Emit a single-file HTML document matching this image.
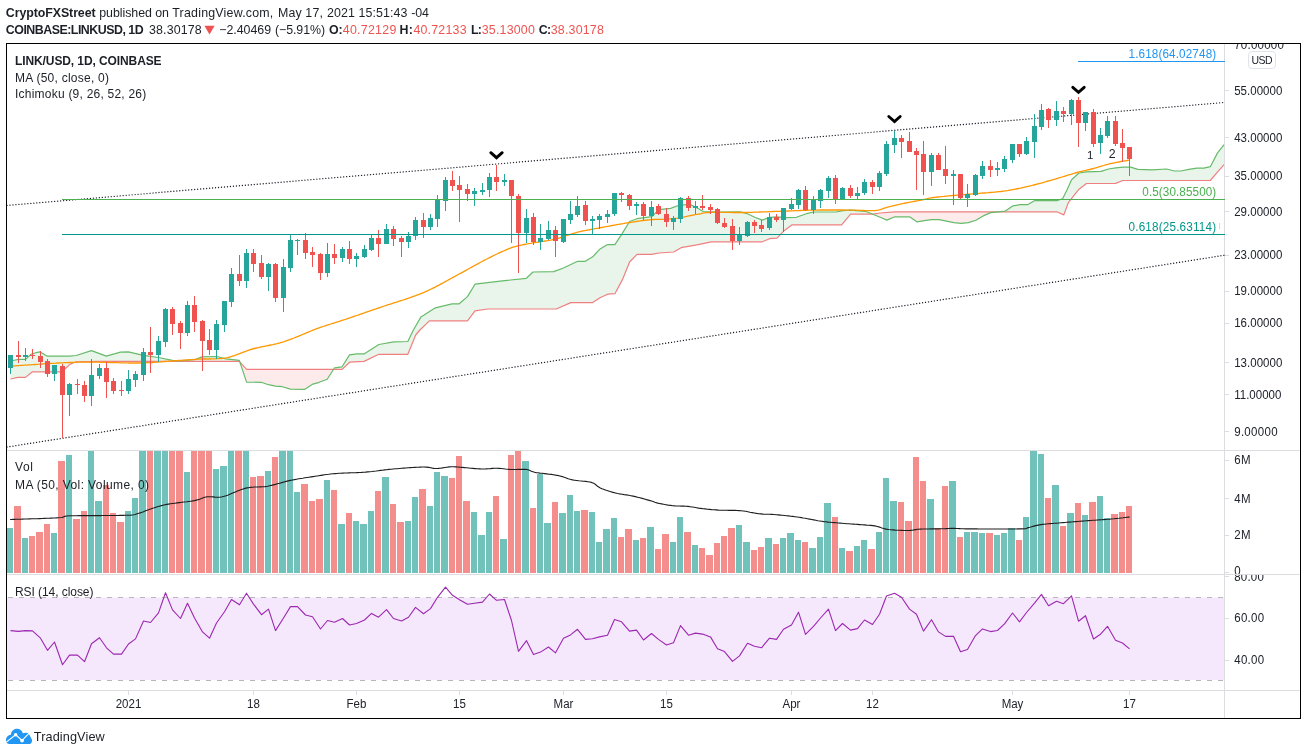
<!DOCTYPE html>
<html><head><meta charset="utf-8"><title>LINK/USD</title>
<style>
html,body{margin:0;padding:0;background:#fff;}
body{width:1307px;height:755px;position:relative;overflow:hidden;font-family:"Liberation Sans",sans-serif;}
#tx{position:absolute;left:0;top:0;width:1307px;height:755px;will-change:transform;}
</style></head><body>
<svg width="1307" height="755" viewBox="0 0 1307 755" style="position:absolute;left:0;top:0"><defs><clipPath id="cp"><rect x="7" y="44" width="1217.5" height="406"/></clipPath><clipPath id="cv"><rect x="7" y="451" width="1217.5" height="123"/></clipPath></defs><g stroke="#dcdde1" stroke-width="1" fill="none" shape-rendering="crispEdges"><line x1="6" x2="1301" y1="450.5" y2="450.5"/><line x1="6" x2="1301" y1="574.5" y2="574.5"/><line x1="6" x2="1301" y1="690.5" y2="690.5"/><line x1="1224.5" x2="1224.5" y1="43" y2="718.5"/><line x1="1224.5" x2="1229.0" y1="90.5" y2="90.5"/><line x1="1224.5" x2="1229.0" y1="137.5" y2="137.5"/><line x1="1224.5" x2="1229.0" y1="176.5" y2="176.5"/><line x1="1224.5" x2="1229.0" y1="211.5" y2="211.5"/><line x1="1224.5" x2="1229.0" y1="255.5" y2="255.5"/><line x1="1224.5" x2="1229.0" y1="291.5" y2="291.5"/><line x1="1224.5" x2="1229.0" y1="323.5" y2="323.5"/><line x1="1224.5" x2="1229.0" y1="362.5" y2="362.5"/><line x1="1224.5" x2="1229.0" y1="394.5" y2="394.5"/><line x1="1224.5" x2="1229.0" y1="431.5" y2="431.5"/><line x1="1224.5" x2="1229.0" y1="460.5" y2="460.5"/><line x1="1224.5" x2="1229.0" y1="498.5" y2="498.5"/><line x1="1224.5" x2="1229.0" y1="535.5" y2="535.5"/><line x1="1224.5" x2="1229.0" y1="572.5" y2="572.5"/><line x1="1224.5" x2="1229.0" y1="576.5" y2="576.5"/><line x1="1224.5" x2="1229.0" y1="618.5" y2="618.5"/><line x1="1224.5" x2="1229.0" y1="660.5" y2="660.5"/><line x1="128.5" x2="128.5" y1="690.5" y2="695"/><line x1="253.5" x2="253.5" y1="690.5" y2="695"/><line x1="356.5" x2="356.5" y1="690.5" y2="695"/><line x1="459.5" x2="459.5" y1="690.5" y2="695"/><line x1="563.5" x2="563.5" y1="690.5" y2="695"/><line x1="666.5" x2="666.5" y1="690.5" y2="695"/><line x1="791.5" x2="791.5" y1="690.5" y2="695"/><line x1="872.5" x2="872.5" y1="690.5" y2="695"/><line x1="1012.5" x2="1012.5" y1="690.5" y2="695"/><line x1="1129.5" x2="1129.5" y1="690.5" y2="695"/></g><rect x="7" y="597.5" width="1217.0" height="82.5" fill="#f5e8fc"/><g stroke="#b6b6ba" stroke-width="1" stroke-dasharray="5 6" stroke-dashoffset="-1" shape-rendering="crispEdges"><line x1="7" x2="1224.5" y1="597.5" y2="597.5"/><line x1="7" x2="1224.5" y1="680.5" y2="680.5"/></g><path d="M10.5 630.6 L18.5 631.4 L25.5 630.6 L32.5 630.9 L40.5 638.2 L47.5 650.3 L54.5 642 L62.5 664.7 L69.5 655.1 L77.5 655.1 L84.5 661.7 L91.5 643.7 L99.5 637.7 L106.5 647.8 L113.5 654.1 L121.5 654.1 L128.5 644 L135.5 638.9 L143.5 621 L150.5 622.5 L158.5 612.9 L165.5 592.7 L172.5 609.9 L180.5 618.5 L187.5 603.3 L194.5 618 L202.5 631.9 L209.5 638.2 L216.5 623 L224.5 611.7 L231.5 599.5 L239.5 604.8 L246.5 593.2 L253.5 604.1 L261.5 614.7 L268.5 609.1 L275.5 630.6 L283.5 618 L290.5 606.6 L297.5 606.6 L305.5 615 L312.5 616.7 L320.5 629 L327.5 620.5 L334.5 622.3 L342.5 618.5 L349.5 625 L356.5 623.5 L364.5 620 L371.5 613.4 L378.5 617.2 L386.5 609.6 L393.5 618.5 L401.5 621 L408.5 617.2 L415.5 607.4 L423.5 613.7 L430.5 608.6 L437.5 597.3 L445.5 587.2 L452.5 595.3 L459.5 599.8 L467.5 604.3 L474.5 603.3 L482.5 602.1 L489.5 594 L496.5 600.3 L504.5 599.5 L511.5 620.5 L518.5 651.3 L526.5 640.7 L533.5 654.6 L540.5 652.1 L548.5 647 L555.5 652.8 L563.5 638.2 L570.5 634.9 L577.5 629.3 L585.5 639.4 L592.5 638.7 L599.5 636.9 L607.5 635.2 L614.5 619.5 L621.5 621.8 L629.5 631.1 L636.5 630.1 L643.5 640 L651.5 633.5 L658.5 639.4 L666.5 645 L673.5 642.7 L680.5 625.6 L688.5 635.2 L695.5 633.1 L702.5 634.1 L710.5 636.9 L717.5 648.8 L724.5 651.6 L732.5 661.4 L739.5 655.9 L747.5 643.2 L754.5 646.3 L761.5 647.8 L769.5 638.2 L776.5 639.4 L783.5 629.3 L791.5 625 L798.5 612.2 L805.5 634.4 L813.5 626.3 L820.5 618 L828.5 609.1 L835.5 630.6 L842.5 623.5 L850.5 630.1 L857.5 628.6 L864.5 620 L872.5 624.5 L879.5 614.2 L886.5 596 L894.5 593.2 L901.5 597.3 L909.5 609.1 L916.5 614.2 L923.5 631.1 L931.5 619.7 L938.5 631.9 L945.5 636.4 L953.5 636.2 L960.5 651.8 L967.5 649.5 L975.5 635.6 L982.5 628.9 L990.5 631.6 L997.5 630.5 L1004.5 623.9 L1012.5 613 L1019.5 621.8 L1026.5 612.5 L1034.5 603.2 L1041.5 594.4 L1048.5 605.8 L1056.5 601.3 L1063.5 603.7 L1071.5 595.8 L1078.5 621.2 L1085.5 615.7 L1093.5 639 L1100.5 634.2 L1107.5 626.3 L1115.5 640.3 L1122.5 643 L1129.5 648.8" fill="none" stroke="#9c27b0" stroke-width="1.1" stroke-linejoin="round"/><g clip-path="url(#cv)" shape-rendering="crispEdges"><rect x="7" y="527.9" width="6" height="45.1" fill="#71c2ba"/><rect x="14" y="506.2" width="7" height="66.8" fill="#f48e8c"/><rect x="22" y="538" width="6" height="35" fill="#71c2ba"/><rect x="29" y="536" width="6" height="37" fill="#f48e8c"/><rect x="36" y="532.2" width="7" height="40.8" fill="#f48e8c"/><rect x="44" y="524.1" width="6" height="48.9" fill="#f48e8c"/><rect x="51" y="532.9" width="6" height="40.1" fill="#71c2ba"/><rect x="58" y="461" width="7" height="112" fill="#f48e8c"/><rect x="66" y="455.2" width="6" height="117.8" fill="#71c2ba"/><rect x="73" y="519" width="7" height="54" fill="#f48e8c"/><rect x="81" y="511.2" width="6" height="61.8" fill="#f48e8c"/><rect x="88" y="450" width="6" height="123" fill="#71c2ba"/><rect x="95" y="501.1" width="7" height="71.9" fill="#71c2ba"/><rect x="103" y="485" width="6" height="88" fill="#f48e8c"/><rect x="110" y="513.2" width="6" height="59.8" fill="#f48e8c"/><rect x="117" y="522.1" width="7" height="50.9" fill="#f48e8c"/><rect x="125" y="511.2" width="6" height="61.8" fill="#71c2ba"/><rect x="132" y="498.1" width="6" height="74.9" fill="#71c2ba"/><rect x="139" y="450" width="7" height="123" fill="#71c2ba"/><rect x="147" y="450" width="6" height="123" fill="#f48e8c"/><rect x="154" y="450" width="7" height="123" fill="#71c2ba"/><rect x="162" y="450" width="6" height="123" fill="#71c2ba"/><rect x="169" y="450" width="6" height="123" fill="#f48e8c"/><rect x="176" y="450" width="7" height="123" fill="#f48e8c"/><rect x="184" y="472.1" width="6" height="100.9" fill="#71c2ba"/><rect x="191" y="450" width="6" height="123" fill="#f48e8c"/><rect x="198" y="450" width="7" height="123" fill="#f48e8c"/><rect x="206" y="450" width="6" height="123" fill="#f48e8c"/><rect x="213" y="469" width="6" height="104" fill="#71c2ba"/><rect x="220" y="466" width="7" height="107" fill="#71c2ba"/><rect x="228" y="450" width="6" height="123" fill="#71c2ba"/><rect x="235" y="450" width="7" height="123" fill="#f48e8c"/><rect x="243" y="450" width="6" height="123" fill="#71c2ba"/><rect x="250" y="477.1" width="6" height="95.9" fill="#f48e8c"/><rect x="257" y="476.1" width="7" height="96.9" fill="#f48e8c"/><rect x="265" y="471.1" width="6" height="101.9" fill="#71c2ba"/><rect x="272" y="456.9" width="6" height="116.1" fill="#f48e8c"/><rect x="279" y="450" width="7" height="123" fill="#71c2ba"/><rect x="287" y="450" width="6" height="123" fill="#71c2ba"/><rect x="294" y="491.8" width="6" height="81.2" fill="#71c2ba"/><rect x="301" y="484.2" width="7" height="88.8" fill="#f48e8c"/><rect x="309" y="501.1" width="6" height="71.9" fill="#f48e8c"/><rect x="316" y="498.8" width="7" height="74.2" fill="#f48e8c"/><rect x="324" y="479.9" width="6" height="93.1" fill="#71c2ba"/><rect x="331" y="490" width="6" height="83" fill="#f48e8c"/><rect x="338" y="524.1" width="7" height="48.9" fill="#71c2ba"/><rect x="346" y="513.2" width="6" height="59.8" fill="#f48e8c"/><rect x="353" y="521.3" width="6" height="51.7" fill="#71c2ba"/><rect x="360" y="524.1" width="7" height="48.9" fill="#71c2ba"/><rect x="368" y="511.2" width="6" height="61.8" fill="#71c2ba"/><rect x="375" y="491" width="6" height="82" fill="#f48e8c"/><rect x="382" y="477.1" width="7" height="95.9" fill="#71c2ba"/><rect x="390" y="504.1" width="6" height="68.9" fill="#f48e8c"/><rect x="397" y="522.1" width="7" height="50.9" fill="#f48e8c"/><rect x="405" y="521.3" width="6" height="51.7" fill="#71c2ba"/><rect x="412" y="497.3" width="6" height="75.7" fill="#71c2ba"/><rect x="419" y="489.2" width="7" height="83.8" fill="#f48e8c"/><rect x="427" y="506.2" width="6" height="66.8" fill="#71c2ba"/><rect x="434" y="472.1" width="6" height="100.9" fill="#71c2ba"/><rect x="441" y="476.1" width="7" height="96.9" fill="#71c2ba"/><rect x="449" y="477.9" width="6" height="95.1" fill="#f48e8c"/><rect x="456" y="455.9" width="6" height="117.1" fill="#f48e8c"/><rect x="463" y="501.1" width="7" height="71.9" fill="#f48e8c"/><rect x="471" y="512.2" width="6" height="60.8" fill="#71c2ba"/><rect x="478" y="535.2" width="7" height="37.8" fill="#71c2ba"/><rect x="486" y="512.2" width="6" height="60.8" fill="#71c2ba"/><rect x="493" y="496.1" width="6" height="76.9" fill="#f48e8c"/><rect x="500" y="539.2" width="7" height="33.8" fill="#71c2ba"/><rect x="508" y="455.2" width="6" height="117.8" fill="#f48e8c"/><rect x="515" y="450.9" width="6" height="122.1" fill="#f48e8c"/><rect x="522" y="461" width="7" height="112" fill="#71c2ba"/><rect x="530" y="508.2" width="6" height="64.8" fill="#f48e8c"/><rect x="537" y="474.1" width="6" height="98.9" fill="#71c2ba"/><rect x="544" y="523.1" width="7" height="49.9" fill="#71c2ba"/><rect x="552" y="502.1" width="6" height="70.9" fill="#f48e8c"/><rect x="559" y="513.2" width="7" height="59.8" fill="#71c2ba"/><rect x="567" y="495" width="6" height="78" fill="#71c2ba"/><rect x="574" y="511.2" width="6" height="61.8" fill="#71c2ba"/><rect x="581" y="510.2" width="7" height="62.8" fill="#f48e8c"/><rect x="589" y="512.2" width="6" height="60.8" fill="#71c2ba"/><rect x="596" y="542.3" width="6" height="30.7" fill="#71c2ba"/><rect x="603" y="529.1" width="7" height="43.9" fill="#71c2ba"/><rect x="611" y="518.3" width="6" height="54.7" fill="#71c2ba"/><rect x="618" y="537.2" width="6" height="35.8" fill="#f48e8c"/><rect x="625" y="529.1" width="7" height="43.9" fill="#f48e8c"/><rect x="633" y="540.3" width="6" height="32.7" fill="#71c2ba"/><rect x="640" y="538.2" width="6" height="34.8" fill="#f48e8c"/><rect x="647" y="527.1" width="7" height="45.9" fill="#71c2ba"/><rect x="655" y="549.1" width="6" height="23.9" fill="#f48e8c"/><rect x="662" y="534.2" width="7" height="38.8" fill="#f48e8c"/><rect x="670" y="542.3" width="6" height="30.7" fill="#71c2ba"/><rect x="677" y="517.3" width="6" height="55.7" fill="#71c2ba"/><rect x="684" y="532.2" width="7" height="40.8" fill="#f48e8c"/><rect x="692" y="545.3" width="6" height="27.7" fill="#71c2ba"/><rect x="699" y="548.1" width="6" height="24.9" fill="#f48e8c"/><rect x="706" y="555.2" width="7" height="17.8" fill="#f48e8c"/><rect x="714" y="543" width="6" height="30" fill="#f48e8c"/><rect x="721" y="536.2" width="6" height="36.8" fill="#f48e8c"/><rect x="728" y="528.1" width="7" height="44.9" fill="#f48e8c"/><rect x="736" y="525.1" width="6" height="47.9" fill="#71c2ba"/><rect x="743" y="542.3" width="7" height="30.7" fill="#71c2ba"/><rect x="751" y="550.1" width="6" height="22.9" fill="#f48e8c"/><rect x="758" y="547.3" width="6" height="25.7" fill="#f48e8c"/><rect x="765" y="538.2" width="7" height="34.8" fill="#71c2ba"/><rect x="773" y="544.3" width="6" height="28.7" fill="#f48e8c"/><rect x="780" y="538.2" width="6" height="34.8" fill="#71c2ba"/><rect x="787" y="533.2" width="7" height="39.8" fill="#71c2ba"/><rect x="795" y="540.3" width="6" height="32.7" fill="#71c2ba"/><rect x="802" y="542.3" width="6" height="30.7" fill="#f48e8c"/><rect x="809" y="548.1" width="7" height="24.9" fill="#71c2ba"/><rect x="817" y="537.2" width="6" height="35.8" fill="#71c2ba"/><rect x="824" y="503.1" width="7" height="69.9" fill="#71c2ba"/><rect x="832" y="517.3" width="6" height="55.7" fill="#f48e8c"/><rect x="839" y="548.1" width="6" height="24.9" fill="#71c2ba"/><rect x="846" y="551.1" width="7" height="21.9" fill="#f48e8c"/><rect x="854" y="546.1" width="6" height="26.9" fill="#71c2ba"/><rect x="861" y="540.3" width="6" height="32.7" fill="#71c2ba"/><rect x="868" y="549.1" width="7" height="23.9" fill="#f48e8c"/><rect x="876" y="532.2" width="6" height="40.8" fill="#71c2ba"/><rect x="883" y="478.1" width="6" height="94.9" fill="#71c2ba"/><rect x="890" y="501.1" width="7" height="71.9" fill="#71c2ba"/><rect x="898" y="502.1" width="6" height="70.9" fill="#f48e8c"/><rect x="905" y="521.3" width="7" height="51.7" fill="#f48e8c"/><rect x="913" y="456.9" width="6" height="116.1" fill="#f48e8c"/><rect x="920" y="481.2" width="6" height="91.8" fill="#f48e8c"/><rect x="927" y="499.1" width="7" height="73.9" fill="#71c2ba"/><rect x="935" y="528.1" width="6" height="44.9" fill="#f48e8c"/><rect x="942" y="486" width="6" height="87" fill="#f48e8c"/><rect x="949" y="481.2" width="7" height="91.8" fill="#71c2ba"/><rect x="957" y="537.2" width="6" height="35.8" fill="#f48e8c"/><rect x="964" y="532.2" width="6" height="40.8" fill="#71c2ba"/><rect x="971" y="532.2" width="7" height="40.8" fill="#71c2ba"/><rect x="979" y="533.2" width="6" height="39.8" fill="#71c2ba"/><rect x="986" y="533.2" width="7" height="39.8" fill="#f48e8c"/><rect x="994" y="535.2" width="6" height="37.8" fill="#71c2ba"/><rect x="1001" y="533.2" width="6" height="39.8" fill="#71c2ba"/><rect x="1008" y="528.4" width="7" height="44.6" fill="#71c2ba"/><rect x="1016" y="540.3" width="6" height="32.7" fill="#f48e8c"/><rect x="1023" y="517.3" width="6" height="55.7" fill="#71c2ba"/><rect x="1030" y="450.6" width="7" height="122.4" fill="#71c2ba"/><rect x="1038" y="453.9" width="6" height="119.1" fill="#71c2ba"/><rect x="1045" y="498.1" width="6" height="74.9" fill="#f48e8c"/><rect x="1052" y="485" width="7" height="88" fill="#71c2ba"/><rect x="1060" y="526.1" width="6" height="46.9" fill="#f48e8c"/><rect x="1067" y="513.2" width="7" height="59.8" fill="#71c2ba"/><rect x="1075" y="503.1" width="6" height="69.9" fill="#f48e8c"/><rect x="1082" y="515.3" width="6" height="57.7" fill="#71c2ba"/><rect x="1089" y="502.1" width="7" height="70.9" fill="#f48e8c"/><rect x="1097" y="496.1" width="6" height="76.9" fill="#71c2ba"/><rect x="1104" y="518.3" width="6" height="54.7" fill="#71c2ba"/><rect x="1111" y="514" width="7" height="59" fill="#f48e8c"/><rect x="1119" y="512.2" width="6" height="60.8" fill="#f48e8c"/><rect x="1126" y="506.2" width="6" height="66.8" fill="#f48e8c"/></g><path d="M10.1 519.5 L11.3 519.5 L12.7 519.4 L14.2 519.4 L16 519.3 L18 519.2 L20.1 519.2 L22.3 519.1 L24.6 519 L27 519 L29.5 518.9 L32 518.8 L34.5 518.7 L37.1 518.7 L39.6 518.6 L42.1 518.5 L44.5 518.4 L46.8 518.3 L49 518.2 L51.2 518.1 L53.1 518 L54.9 518 L56.6 517.9 L58 517.8 L61.7 517.5 L63.3 517.1 L63.9 516.7 L64.6 516.4 L66.5 516 L70.7 515.8 L72.1 515.8 L73.6 515.7 L75.2 515.7 L77 515.7 L79 515.6 L81 515.6 L83.1 515.6 L85.4 515.6 L87.6 515.6 L90 515.6 L92.4 515.6 L94.8 515.6 L97.3 515.6 L99.7 515.6 L102.2 515.5 L104.6 515.5 L107 515.5 L109.4 515.5 L111.7 515.5 L113.9 515.5 L116 515.5 L118 515.5 L120 515.4 L121.8 515.4 L123.4 515.4 L125 515.3 L126.3 515.3 L130.9 515.1 L133.7 514.8 L135.3 514.5 L136.3 514.1 L137.3 513.7 L138.9 513.2 L141 512.6 L143 511.9 L145 511.1 L147.1 510.3 L149.2 509.5 L151.5 508.7 L153.4 508.1 L155.3 507.4 L157.2 506.8 L159.2 506.2 L161.4 505.6 L163.8 505 L166.7 504.4 L168.5 504.1 L170.4 503.8 L172.5 503.5 L174.8 503.2 L177.1 502.9 L179.5 502.6 L181.9 502.3 L184.3 502 L186.6 501.8 L188.8 501.5 L190.8 501.2 L192.7 500.9 L194.4 500.6 L197.3 499.9 L199.6 499.2 L201.5 498.5 L203.2 497.8 L204.9 497.2 L207 496.8 L209 496.7 L211 496.7 L213.1 496.9 L215.2 497.1 L217.4 497.2 L219.7 497.2 L222.2 496.8 L224.1 496.3 L226.1 495.7 L228.2 494.9 L230.4 494 L232.6 493.1 L234.8 492.2 L236.9 491.3 L238.9 490.5 L240.8 489.8 L242.4 489.2 L245 488.4 L246.9 487.9 L248.6 487.7 L250.3 487.4 L252.5 487.2 L254.3 487 L256.3 487 L258.3 487 L260.4 486.9 L262.7 486.8 L265.1 486.6 L267.7 486.2 L269.5 485.8 L271.4 485.4 L273.3 484.9 L275.4 484.4 L277.5 483.8 L279.7 483.2 L281.8 482.6 L284 482 L286.2 481.4 L288.3 480.9 L290.4 480.4 L292.5 480 L294.5 479.6 L296.6 479.2 L298.7 478.8 L300.8 478.5 L302.8 478.2 L304.9 477.8 L307 477.5 L309 477.2 L311.1 476.9 L313.1 476.6 L315.1 476.3 L317 476 L318.9 475.7 L320.8 475.4 L322.7 475.1 L324.6 474.8 L326.6 474.5 L328.6 474.3 L330.7 474 L332.9 473.8 L335.2 473.6 L337 473.5 L338.8 473.3 L340.8 473.2 L342.8 473.1 L344.8 473 L346.9 473 L348.9 472.9 L351.1 472.8 L353.2 472.7 L355.3 472.7 L357.4 472.6 L359.5 472.5 L361.5 472.4 L363.5 472.2 L365.5 472.1 L367.7 471.9 L369.9 471.7 L372 471.5 L374.1 471.2 L376.2 471 L378.3 470.7 L380.4 470.4 L382.5 470.2 L384.6 469.9 L386.7 469.7 L388.8 469.4 L391 469.2 L393.2 469 L395.2 468.8 L397.2 468.7 L399.4 468.5 L401.6 468.3 L403.8 468.1 L406 468 L408.2 467.8 L410.4 467.6 L412.5 467.5 L414.6 467.4 L416.6 467.3 L418.5 467.2 L420.3 467.1 L422 467 L423.5 467 L426.6 467.1 L428.9 467.4 L430.8 467.7 L432.4 468.1 L434.1 468.4 L436.2 468.5 L438.2 468.4 L440.3 468.2 L442.5 467.9 L444.7 467.5 L446.9 467.2 L449.1 466.9 L451.3 466.8 L453.5 466.8 L455.6 466.9 L457.8 467 L460 467.2 L462.2 467.4 L464.3 467.6 L466.5 467.8 L468.7 468 L470.8 468.2 L473 468.4 L475.1 468.6 L477.3 468.8 L479.4 468.9 L481.6 469 L483.8 469 L485.9 468.9 L488.1 468.7 L490.3 468.6 L492.5 468.4 L494.6 468.3 L496.8 468.3 L499 468.4 L501.1 468.5 L503.3 468.7 L505.4 469 L507.6 469.2 L509.7 469.4 L511.9 469.5 L514.1 469.5 L516.5 469.5 L518.8 469.4 L521.1 469.4 L523.3 469.3 L525.3 469.4 L527.1 469.5 L529.6 470.2 L531.3 471.2 L534.6 472.3 L536.1 472.6 L537.9 472.8 L539.9 473.1 L542.1 473.3 L544.4 473.6 L546.7 473.9 L549 474.2 L551.3 474.4 L553.5 474.7 L555.6 475.1 L557.4 475.4 L559.9 476 L562.2 476.6 L564.2 477.3 L566.2 478 L568.1 478.7 L570.2 479.3 L572.5 479.9 L574.5 480.2 L576.7 480.5 L578.9 480.8 L581.2 481 L583.5 481.2 L585.8 481.4 L587.9 481.7 L589.8 482 L591.5 482.4 L594.3 483.6 L596.1 485 L597.9 486.6 L600.3 488 L602.1 488.8 L604.1 489.5 L606.2 490.3 L608.5 491 L610.8 491.7 L613.1 492.4 L615.5 493 L617.6 493.5 L619.7 493.9 L622 494.2 L624.2 494.6 L626.4 494.9 L628.7 495.3 L630.9 495.7 L633.1 496.1 L635.3 496.6 L637.6 497.2 L639.9 497.8 L642.2 498.4 L644.4 499 L646.4 499.6 L648.3 500.1 L650 500.6 L653 501.6 L654.9 502.3 L657.7 503.1 L659.5 503.5 L661.5 503.9 L663.6 504.3 L665.9 504.7 L668.3 505.1 L670.6 505.4 L672.8 505.7 L675 505.9 L677.1 506 L679.3 506 L681.5 506.1 L683.7 506.1 L685.8 506.2 L688 506.4 L690.1 506.7 L692.2 507 L694.3 507.3 L696.5 507.7 L698.6 508.1 L700.8 508.4 L703.1 508.7 L705.2 508.9 L707.3 509.2 L709.4 509.4 L711.6 509.6 L713.9 509.7 L716.1 509.9 L718.5 510.1 L720.8 510.2 L722.7 510.3 L724.7 510.3 L726.8 510.3 L728.8 510.4 L730.9 510.4 L733 510.4 L735 510.4 L737.1 510.5 L739.1 510.6 L741 510.7 L743.3 511 L745.6 511.3 L747.8 511.7 L750 512.2 L752.2 512.6 L754.3 513 L756.5 513.4 L758.7 513.7 L760.9 513.9 L763 514.1 L765.1 514.2 L767.2 514.2 L769.4 514.3 L771.6 514.4 L773.9 514.5 L776.4 514.7 L778.3 514.9 L780.2 515.1 L782.2 515.3 L784.3 515.5 L786.4 515.7 L788.5 515.9 L790.6 516.2 L792.8 516.4 L794.9 516.7 L797 517 L799.1 517.3 L801.2 517.6 L803.3 518 L805.4 518.3 L807.5 518.7 L809.6 519.1 L811.7 519.5 L813.7 519.9 L815.8 520.3 L817.8 520.7 L819.8 521 L821.8 521.3 L823.9 521.6 L826 521.8 L828.1 522.1 L830.2 522.3 L832.2 522.5 L834.2 522.6 L836.2 522.8 L838.2 523 L840.1 523.1 L842 523.3 L844.3 523.5 L846.7 523.7 L848.9 523.8 L851.2 524 L853.4 524.1 L855.5 524.3 L857.6 524.4 L859.7 524.6 L862 524.8 L864.3 524.9 L866.5 525.1 L868.7 525.2 L870.8 525.4 L872.9 525.6 L874.8 525.9 L877.3 526.5 L879.6 527.1 L881.8 527.9 L884 528.6 L886.2 529.1 L888.5 529.5 L890.7 529.7 L893 529.9 L895.2 530.1 L897.6 530.2 L899.7 530.3 L901.8 530.4 L904 530.5 L906.1 530.5 L908.2 530.5 L910.2 530.4 L912.3 530.2 L914.1 529.9 L915.8 529.6 L917.8 529.3 L920.3 529.1 L922.2 529 L924.3 529 L926.5 529 L928.8 529 L931.2 528.9 L933.6 528.9 L935.9 528.9 L938 528.9 L940.3 528.8 L942.5 528.7 L944.6 528.7 L946.6 528.6 L948.7 528.5 L950.9 528.4 L953.1 528.4 L954.9 528.4 L956.4 528.5 L957.8 528.5 L959.3 528.6 L961.1 528.7 L963.4 528.8 L966.3 528.9 L970 528.9 L971.4 528.9 L973 528.9 L974.8 528.9 L976.7 528.9 L978.7 529 L980.7 529 L982.9 529 L985.2 529 L987.5 529 L989.9 529 L992.3 529 L994.7 529 L997.1 529 L999.5 529 L1001.8 529 L1004.2 529 L1006.4 529 L1008.6 529 L1010.7 529 L1012.7 529 L1014.6 529 L1016.3 529 L1017.9 528.9 L1019.3 528.9 L1020.6 528.9 L1026.1 528.6 L1026.9 528.2 L1028.2 527.6 L1029.9 527.2 L1031.7 526.7 L1033.7 526.1 L1035.9 525.6 L1038.2 525.1 L1040.8 524.6 L1042.5 524.4 L1044.3 524.2 L1046.1 524 L1048.1 523.8 L1050.1 523.6 L1052.2 523.5 L1054.3 523.3 L1056.5 523.2 L1058.7 523 L1061 522.8 L1062.9 522.6 L1064.9 522.5 L1067 522.3 L1069.1 522.1 L1071.2 522 L1073.3 521.8 L1075.5 521.6 L1077.7 521.5 L1079.9 521.3 L1082 521.1 L1084.2 521 L1086.3 520.8 L1088.4 520.6 L1090.6 520.5 L1092.8 520.3 L1095 520.2 L1097.2 520 L1099.3 519.9 L1101.5 519.8 L1103.6 519.6 L1105.7 519.5 L1107.7 519.3 L1109.6 519.2 L1111.5 519 L1113.9 518.8 L1116.4 518.5 L1118.8 518.3 L1121.1 518 L1123.2 517.8 L1125.2 517.5 L1127 517.3 L1128.5 517.1 L1129.7 517" fill="none" stroke="#1e1e1e" stroke-width="1.1" stroke-linejoin="round"/><g clip-path="url(#cp)"><path d="M10.5 361 L11 360.9 L11.5 360.8 L12 360.7 L12.5 360.6 L13 360.5 L13.5 360.4 L14 360.3 L14.5 360.2 L15 360.1 L15.5 360 L16 359.9 L16.5 359.8 L17 359.7 L17.5 359.6 L18 359.5 L18.5 359.4 L19 359.4 L19.5 359.4 L20 359.4 L20.5 359.4 L21 359.4 L21.5 359.4 L22 359.4 L22.5 359.4 L23 359.4 L23.5 359.4 L24 359.4 L24.5 359.4 L25 359.4 L25.5 359.4 L26 358.9 L26.5 358.5 L27 358 L27.5 357.5 L28 357.1 L28.5 356.6 L29 356.1 L29.5 355.7 L30 355.2 L30.5 354.8 L31 354.3 L31.5 354.1 L32 353.9 L32.5 353.8 L33 353.6 L33.5 353.4 L34 353.3 L34.5 353.1 L35 353 L35.5 352.8 L36 352.7 L36.5 352.6 L37 352.5 L37.5 352.4 L38 352.3 L38.5 352.2 L39 352.1 L39.5 352 L40 351.9 L40.5 352.1 L41 352.4 L41.5 352.7 L42 353 L42.5 353.3 L43 353.6 L43.5 353.9 L44 354.2 L44.5 354.5 L45 354.8 L45.5 355.1 L46 355.4 L46.5 355.7 L47 356 L47.5 356.2 L48 356.2 L48.5 356.2 L49 356.2 L49.5 356.2 L50 356.2 L50.5 356.2 L51 356.2 L51.5 356.2 L52 356.2 L52.5 356.2 L53 356.2 L53.5 356.2 L54 356.2 L54.5 356.2 L55 356.2 L55.5 356.2 L56 356.2 L56.5 356.2 L57 356.2 L57.5 356.2 L58 356.2 L58.5 356.2 L59 356.2 L59.5 356.2 L60 356.2 L60.5 356.2 L61 356.2 L61.5 356.2 L62 356.2 L62.5 356.2 L63 356.2 L63.5 356.2 L64 356.2 L64.5 356.2 L65 356.2 L65.5 356.2 L66 356.2 L66.5 356.2 L67 356.2 L67.5 356.2 L68 356.2 L68.5 356.2 L69 356.2 L69.5 356.2 L70 356.1 L70.5 356.1 L71 356 L71.5 356 L72 355.9 L72.5 355.9 L73 355.8 L73.5 355.8 L74 355.7 L74.5 355.7 L75 355.6 L75.5 355.6 L76 355.5 L76.5 355.4 L77 355.2 L77.5 355.1 L78 354.9 L78.5 354.8 L79 354.6 L79.5 354.4 L80 354.3 L80.5 354.1 L81 354 L81.5 353.8 L82 353.6 L82.5 353.5 L83 353.3 L83.5 353.1 L84 353 L84.5 352.8 L85 352.7 L85.5 352.5 L86 352.3 L86.5 352.2 L87 352 L87.5 351.9 L88 351.7 L88.5 351.5 L89 351.4 L89.5 351.2 L90 351.1 L90.5 350.9 L91 350.7 L91.5 350.6 L92 350.8 L92.5 351 L93 351.2 L93.5 351.4 L94 351.6 L94.5 351.7 L95 351.9 L95.5 352.1 L96 352.3 L96.5 352.5 L97 352.7 L97.5 352.8 L98 353 L98.5 353.2 L99 353.4 L99.5 353.6 L100 353.8 L100.5 353.9 L101 354.1 L101.5 354.3 L102 354.5 L102.5 354.7 L103 354.9 L103.5 355 L104 355.2 L104.5 355.4 L105 355.6 L105.5 355.8 L106 356 L106.5 356.1 L107 355.9 L107.5 355.8 L108 355.7 L108.5 355.5 L109 355.4 L109.5 355.2 L110 355.1 L110.5 355 L111 354.8 L111.5 354.7 L112 354.6 L112.5 354.4 L113 354.3 L113.5 354.1 L114 354 L114.5 353.9 L115 353.7 L115.5 353.6 L116 353.4 L116.5 353.3 L117 353.2 L117.5 353 L118 352.9 L118.5 352.8 L119 352.6 L119.5 352.5 L120 352.3 L120.5 352.2 L121 352.2 L121.5 352.1 L122 352.1 L122.5 352.1 L123 352.1 L123.5 352 L124 352 L124.5 352 L125 352 L125.5 351.9 L126 351.9 L126.5 351.9 L127 351.9 L127.5 351.8 L128 351.8 L128.5 351.8 L129 351.9 L129.5 352.1 L130 352.2 L130.5 352.3 L131 352.4 L131.5 352.5 L132 352.6 L132.5 352.8 L133 352.9 L133.5 353 L134 353.1 L134.5 353.2 L135 353.3 L135.5 353.5 L136 353.6 L136.5 353.7 L137 353.8 L137.5 353.9 L138 354 L138.5 354.2 L139 354.3 L139.5 354.4 L140 354.5 L140.5 354.6 L141 354.7 L141.5 354.9 L142 355 L142.5 355.1 L143 355.2 L143.5 355.3 L144 355.4 L144.5 355.5 L145 355.5 L145.5 355.6 L146 355.7 L146.5 355.8 L147 355.8 L147.5 355.9 L148 356 L148.5 356.1 L149 356.1 L149.5 356.2 L150 356.3 L150.5 356.3 L151 356.4 L151.5 356.5 L152 356.6 L152.5 356.6 L153 356.7 L153.5 356.8 L154 356.9 L154.5 356.9 L155 357 L155.5 357.1 L156 357.2 L156.5 357.2 L157 357.3 L157.5 357.4 L158 357.5 L158.5 357.5 L159 357.6 L159.5 357.7 L160 357.8 L160.5 357.9 L161 358 L161.5 358.1 L162 358.3 L162.5 358.4 L163 358.5 L163.5 358.6 L164 358.7 L164.5 358.8 L165 358.9 L165.5 359 L166 359.1 L166.5 359.2 L167 359.3 L167.5 359.4 L168 359.5 L168.5 359.6 L169 359.7 L169.5 359.8 L170 359.9 L170.5 360 L171 360.1 L171.5 360.2 L172 360.3 L172.5 360.4 L173 360.4 L173.5 360.4 L174 360.5 L174.5 360.5 L175 360.5 L175.5 360.6 L176 360.6 L176.5 360.6 L177 360.6 L177.5 360.7 L178 360.7 L178.5 360.7 L179 360.7 L179.5 360.8 L180 360.8 L180.5 360.8 L181 360.7 L181.5 360.7 L182 360.6 L182.5 360.6 L183 360.5 L183.5 360.5 L184 360.4 L184.5 360.4 L185 360.4 L185.5 360.3 L186 360.3 L186.5 360.2 L187 360.2 L187.5 360.1 L188 360.1 L188.5 360.1 L189 360 L189.5 360 L190 359.9 L190.5 359.9 L191 359.8 L191.5 359.8 L192 359.7 L192.5 359.7 L193 359.7 L193.5 359.6 L194 359.6 L194.5 359.5 L195 359.5 L195.5 359.4 L196 359.4 L196.5 359.1 L197 358.9 L197.5 358.7 L198 358.5 L198.5 358.3 L199 358.1 L199.5 357.9 L200 357.7 L200.5 357.5 L201 357.3 L201.5 357.1 L202 356.9 L202.5 356.9 L203 356.9 L203.5 356.9 L204 356.8 L204.5 356.8 L205 356.8 L205.5 356.8 L206 356.8 L206.5 356.8 L207 356.8 L207.5 356.7 L208 356.7 L208.5 356.7 L209 356.7 L209.5 356.7 L210 356.7 L210.5 356.7 L211 356.7 L211.5 356.6 L212 356.6 L212.5 356.6 L213 356.6 L213.5 356.6 L214 356.6 L214.5 356.6 L215 356.5 L215.5 356.5 L216 356.5 L216.5 356.5 L217 356.6 L217.5 356.7 L218 356.8 L218.5 356.9 L219 357.1 L219.5 357.2 L220 357.3 L220.5 357.4 L221 357.6 L221.5 357.7 L222 357.8 L222.5 358 L223 358.1 L223.5 358.2 L224 358.3 L224.5 358.5 L225 358.6 L225.5 358.7 L226 358.8 L226.5 358.9 L227 358.9 L227.5 359 L228 359.1 L228.5 359.1 L229 359.2 L229.5 359.2 L230 359.3 L230.5 359.4 L231 359.4 L231.5 359.5 L232 359.5 L232.5 359.6 L233 359.7 L233.5 359.7 L234 359.8 L234.5 359.8 L235 359.9 L235.5 359.9 L236 360 L236.5 360.1 L237 360.1 L237.5 360.2 L238 360.2 L238.5 360.3 L239 360.4 L239.5 361 L240 362.5 L240 362.2 L239.5 361.6 L239 361.4 L238.5 361.4 L238 361.4 L237.5 361.4 L237 361.4 L236.5 361.4 L236 361.4 L235.5 361.4 L235 361.4 L234.5 361.4 L234 361.4 L233.5 361.4 L233 361.4 L232.5 361.4 L232 361.4 L231.5 361.4 L231 361.4 L230.5 361.4 L230 361.4 L229.5 361.4 L229 361.4 L228.5 361.4 L228 361.4 L227.5 361.4 L227 361.4 L226.5 361.4 L226 361.4 L225.5 361.4 L225 361.4 L224.5 361.4 L224 361.4 L223.5 361.4 L223 361.4 L222.5 361.4 L222 361.4 L221.5 361.4 L221 361.4 L220.5 361.4 L220 361.4 L219.5 361.4 L219 361.4 L218.5 361.4 L218 361.4 L217.5 361.4 L217 361.4 L216.5 361.4 L216 361.4 L215.5 361.4 L215 361.4 L214.5 361.4 L214 361.4 L213.5 361.4 L213 361.4 L212.5 361.4 L212 361.4 L211.5 361.4 L211 361.4 L210.5 361.4 L210 361.4 L209.5 361.4 L209 361.4 L208.5 361.4 L208 361.4 L207.5 361.4 L207 361.4 L206.5 361.4 L206 361.4 L205.5 361.4 L205 361.4 L204.5 361.4 L204 361.4 L203.5 361.4 L203 361.4 L202.5 361.4 L202 361.4 L201.5 361.4 L201 361.4 L200.5 361.4 L200 361.4 L199.5 361.4 L199 361.4 L198.5 361.4 L198 361.4 L197.5 361.4 L197 361.4 L196.5 361.4 L196 361.4 L195.5 361.4 L195 361.4 L194.5 361.4 L194 361.4 L193.5 361.4 L193 361.4 L192.5 361.4 L192 361.4 L191.5 361.4 L191 361.4 L190.5 361.4 L190 361.4 L189.5 361.4 L189 361.4 L188.5 361.4 L188 361.4 L187.5 361.4 L187 361.4 L186.5 361.4 L186 361.4 L185.5 361.4 L185 361.4 L184.5 361.4 L184 361.4 L183.5 361.4 L183 361.4 L182.5 361.4 L182 361.4 L181.5 361.4 L181 361.4 L180.5 361.4 L180 361.4 L179.5 361.4 L179 361.4 L178.5 361.4 L178 361.4 L177.5 361.4 L177 361.4 L176.5 361.4 L176 361.4 L175.5 361.4 L175 361.4 L174.5 361.4 L174 361.4 L173.5 361.4 L173 361.4 L172.5 361.4 L172 361.4 L171.5 361.4 L171 361.4 L170.5 361.4 L170 361.4 L169.5 361.4 L169 361.4 L168.5 361.4 L168 361.4 L167.5 361.4 L167 361.4 L166.5 361.4 L166 361.4 L165.5 361.4 L165 361.4 L164.5 361.4 L164 361.4 L163.5 361.4 L163 361.4 L162.5 361.4 L162 361.4 L161.5 361.4 L161 361.4 L160.5 361.4 L160 361.4 L159.5 361.4 L159 361.4 L158.5 361.4 L158 361.4 L157.5 361.4 L157 361.4 L156.5 361.4 L156 361.4 L155.5 361.4 L155 361.4 L154.5 361.4 L154 361.4 L153.5 361.4 L153 361.4 L152.5 361.4 L152 361.4 L151.5 361.4 L151 361.4 L150.5 361.4 L150 361.4 L149.5 361.4 L149 361.4 L148.5 361.4 L148 361.4 L147.5 361.4 L147 361.4 L146.5 361.4 L146 361.4 L145.5 361.4 L145 361.4 L144.5 361.4 L144 361.4 L143.5 361.4 L143 361.4 L142.5 361.4 L142 361.4 L141.5 361.4 L141 361.4 L140.5 361.4 L140 361.4 L139.5 361.4 L139 361.4 L138.5 361.4 L138 361.4 L137.5 361.4 L137 361.4 L136.5 361.4 L136 361.4 L135.5 361.4 L135 361.4 L134.5 361.4 L134 361.4 L133.5 361.4 L133 361.4 L132.5 361.4 L132 361.4 L131.5 361.4 L131 361.4 L130.5 361.4 L130 361.4 L129.5 361.4 L129 361.4 L128.5 361.4 L128 361.4 L127.5 361.4 L127 361.4 L126.5 361.4 L126 361.4 L125.5 361.4 L125 361.4 L124.5 361.4 L124 361.4 L123.5 361.4 L123 361.4 L122.5 361.4 L122 361.4 L121.5 361.4 L121 361.4 L120.5 361.4 L120 361.4 L119.5 361.4 L119 361.4 L118.5 361.4 L118 361.4 L117.5 361.4 L117 361.4 L116.5 361.4 L116 361.4 L115.5 361.4 L115 361.4 L114.5 361.4 L114 361.4 L113.5 361.4 L113 361.4 L112.5 361.4 L112 361.4 L111.5 361.4 L111 361.4 L110.5 361.4 L110 361.4 L109.5 361.4 L109 361.4 L108.5 361.4 L108 361.4 L107.5 361.4 L107 361.4 L106.5 361.4 L106 361.4 L105.5 361.4 L105 361.4 L104.5 361.4 L104 361.4 L103.5 361.4 L103 361.4 L102.5 361.4 L102 361.4 L101.5 361.4 L101 361.4 L100.5 361.4 L100 361.4 L99.5 361.4 L99 361.4 L98.5 361.4 L98 361.4 L97.5 361.4 L97 361.5 L96.5 361.5 L96 361.5 L95.5 361.5 L95 361.5 L94.5 361.5 L94 361.5 L93.5 361.5 L93 361.5 L92.5 361.5 L92 361.5 L91.5 361.5 L91 361.6 L90.5 361.6 L90 361.6 L89.5 361.6 L89 361.6 L88.5 361.6 L88 361.6 L87.5 361.6 L87 361.6 L86.5 361.6 L86 361.6 L85.5 361.6 L85 361.7 L84.5 361.7 L84 361.7 L83.5 361.7 L83 361.7 L82.5 361.7 L82 361.7 L81.5 361.7 L81 361.7 L80.5 361.7 L80 361.7 L79.5 361.7 L79 361.8 L78.5 361.8 L78 361.8 L77.5 361.8 L77 361.8 L76.5 361.8 L76 361.9 L75.5 362.1 L75 362.3 L74.5 362.5 L74 362.6 L73.5 362.8 L73 363 L72.5 363.2 L72 363.4 L71.5 363.6 L71 363.8 L70.5 364 L70 364.3 L69.5 364.8 L69 365.2 L68.5 365.7 L68 366.2 L67.5 366.6 L67 367.1 L66.5 367.6 L66 368 L65.5 368.5 L65 368.9 L64.5 369.2 L64 369.5 L63.5 369.8 L63 370 L62.5 370.3 L62 370.6 L61.5 370.9 L61 371.2 L60.5 371.5 L60 371.7 L59.5 371.8 L59 371.8 L58.5 371.8 L58 371.8 L57.5 371.8 L57 371.8 L56.5 371.8 L56 371.8 L55.5 371.8 L55 371.8 L54.5 371.8 L54 371.8 L53.5 371.8 L53 371.8 L52.5 371.8 L52 371.8 L51.5 371.8 L51 371.8 L50.5 371.8 L50 371.8 L49.5 371.8 L49 371.8 L48.5 371.8 L48 371.8 L47.5 371.8 L47 371.8 L46.5 371.8 L46 371.8 L45.5 371.8 L45 371.8 L44.5 371.8 L44 371.8 L43.5 371.8 L43 371.8 L42.5 371.8 L42 371.8 L41.5 371.8 L41 371.8 L40.5 371.8 L40 371.8 L39.5 371.8 L39 371.8 L38.5 371.8 L38 371.8 L37.5 371.8 L37 371.8 L36.5 371.8 L36 371.8 L35.5 371.8 L35 371.8 L34.5 371.8 L34 371.8 L33.5 371.8 L33 371.8 L32.5 371.8 L32 372.2 L31.5 372.6 L31 373 L30.5 373.4 L30 373.8 L29.5 374.2 L29 374.6 L28.5 375 L28 375.4 L27.5 375.8 L27 376.2 L26.5 376.6 L26 377 L25.5 377.4 L25 377.4 L24.5 377.4 L24 377.4 L23.5 377.4 L23 377.4 L22.5 377.4 L22 377.4 L21.5 377.4 L21 377.4 L20.5 377.4 L20 377.4 L19.5 377.4 L19 377.4 L18.5 377.4 L18 377.4 L17.5 377.5 L17 377.6 L16.5 377.7 L16 377.8 L15.5 377.9 L15 378 L14.5 378.1 L14 378.2 L13.5 378.4 L13 378.5 L12.5 378.6 L12 378.7 L11.5 378.8 L11 378.9 L10.5 379Z" fill="#e9f5ea"/><path d="M240 362.5 L240.5 364 L241 365.5 L241.5 366.9 L242 368.4 L242.5 369.9 L243 371.4 L243.5 372.9 L244 374.4 L244.5 375.9 L245 377.3 L245.5 378.8 L246 380.3 L246.5 381.8 L247 382.1 L247.5 382.1 L248 382.1 L248.5 382.1 L249 382.1 L249.5 382.1 L250 382.1 L250.5 382.2 L251 382.2 L251.5 382.2 L252 382.2 L252.5 382.2 L253 382.2 L253.5 382.2 L254 382.2 L254.5 382.2 L255 382.2 L255.5 382.2 L256 382.2 L256.5 382.2 L257 382.2 L257.5 382.2 L258 382.3 L258.5 382.3 L259 382.3 L259.5 382.3 L260 382.3 L260.5 382.3 L261 382.3 L261.5 382.4 L262 382.6 L262.5 382.7 L263 382.9 L263.5 383.1 L264 383.2 L264.5 383.4 L265 383.5 L265.5 383.7 L266 383.9 L266.5 384 L267 384.2 L267.5 384.4 L268 384.5 L268.5 384.7 L269 384.8 L269.5 384.9 L270 385 L270.5 385.1 L271 385.2 L271.5 385.3 L272 385.4 L272.5 385.5 L273 385.6 L273.5 385.7 L274 385.8 L274.5 385.9 L275 386 L275.5 386.1 L276 386.1 L276.5 386.2 L277 386.2 L277.5 386.3 L278 386.3 L278.5 386.4 L279 386.4 L279.5 386.4 L280 386.5 L280.5 386.5 L281 386.6 L281.5 386.6 L282 386.7 L282.5 386.7 L283 386.9 L283.5 387 L284 387.2 L284.5 387.3 L285 387.5 L285.5 387.6 L286 387.8 L286.5 387.9 L287 388.1 L287.5 388.2 L288 388.4 L288.5 388.5 L289 388.7 L289.5 388.8 L290 389 L290.5 389.1 L291 389.1 L291.5 389.1 L292 389.1 L292.5 389.1 L293 389.1 L293.5 389.1 L294 389.1 L294.5 389.2 L295 389.2 L295.5 389.2 L296 389.2 L296.5 389.2 L297 389.2 L297.5 389.2 L298 389.2 L298.5 389.2 L299 389.2 L299.5 389.2 L300 389.2 L300.5 389.2 L301 389.2 L301.5 389.3 L302 389.3 L302.5 389.3 L303 389.3 L303.5 389.3 L304 389.3 L304.5 389.3 L305 389.2 L305.5 388.9 L306 388.6 L306.5 388.3 L307 387.9 L307.5 387.6 L308 387.3 L308.5 387 L309 386.6 L309.5 386.3 L310 386 L310.5 385.7 L311 385.3 L311.5 385 L312 384.7 L312.5 384.4 L313 384.1 L313.5 383.9 L314 383.8 L314.5 383.6 L315 383.5 L315.5 383.4 L316 383.2 L316.5 383.1 L317 382.9 L317.5 382.8 L318 382.6 L318.5 382.5 L319 382.4 L319.5 382.2 L320 382 L320.5 381.8 L321 381.6 L321.5 381.4 L322 381.2 L322.5 381.1 L323 380.9 L323.5 380.7 L324 380.5 L324.5 380.3 L325 380.1 L325.5 379.9 L326 379.8 L326.5 379.6 L327 379.4 L327.5 378.8 L328 378.1 L328.5 377.3 L329 376.5 L329.5 375.7 L330 374.9 L330.5 374.2 L331 373.4 L331.5 372.6 L332 371.8 L332.5 371.1 L333 370.3 L333.5 369.5 L334 368.7 L334 369.4 L333.5 369.4 L333 369.4 L332.5 369.4 L332 369.4 L331.5 369.4 L331 369.4 L330.5 369.4 L330 369.4 L329.5 369.4 L329 369.4 L328.5 369.4 L328 369.4 L327.5 369.4 L327 369.4 L326.5 369.4 L326 369.4 L325.5 369.4 L325 369.4 L324.5 369.4 L324 369.4 L323.5 369.4 L323 369.4 L322.5 369.4 L322 369.4 L321.5 369.4 L321 369.4 L320.5 369.4 L320 369.4 L319.5 369.4 L319 369.4 L318.5 369.4 L318 369.4 L317.5 369.4 L317 369.4 L316.5 369.4 L316 369.4 L315.5 369.4 L315 369.4 L314.5 369.4 L314 369.4 L313.5 369.4 L313 369.4 L312.5 369.4 L312 369.4 L311.5 369.4 L311 369.4 L310.5 369.4 L310 369.4 L309.5 369.4 L309 369.4 L308.5 369.4 L308 369.4 L307.5 369.4 L307 369.4 L306.5 369.4 L306 369.4 L305.5 369.4 L305 369.4 L304.5 369.4 L304 369.4 L303.5 369.4 L303 369.4 L302.5 369.4 L302 369.4 L301.5 369.4 L301 369.4 L300.5 369.4 L300 369.4 L299.5 369.4 L299 369.4 L298.5 369.4 L298 369.4 L297.5 369.4 L297 369.4 L296.5 369.4 L296 369.4 L295.5 369.4 L295 369.4 L294.5 369.4 L294 369.4 L293.5 369.4 L293 369.4 L292.5 369.4 L292 369.4 L291.5 369.4 L291 369.4 L290.5 369.4 L290 369.4 L289.5 369.4 L289 369.4 L288.5 369.4 L288 369.4 L287.5 369.4 L287 369.4 L286.5 369.4 L286 369.4 L285.5 369.4 L285 369.4 L284.5 369.4 L284 369.4 L283.5 369.4 L283 369.4 L282.5 369.4 L282 369.4 L281.5 369.4 L281 369.4 L280.5 369.4 L280 369.4 L279.5 369.4 L279 369.4 L278.5 369.4 L278 369.4 L277.5 369.4 L277 369.4 L276.5 369.4 L276 369.4 L275.5 369.4 L275 369.4 L274.5 369.4 L274 369.4 L273.5 369.4 L273 369.4 L272.5 369.4 L272 369.4 L271.5 369.4 L271 369.4 L270.5 369.4 L270 369.4 L269.5 369.4 L269 369.4 L268.5 369.4 L268 369.4 L267.5 369.4 L267 369.4 L266.5 369.4 L266 369.4 L265.5 369.4 L265 369.4 L264.5 369.4 L264 369.4 L263.5 369.4 L263 369.4 L262.5 369.4 L262 369.4 L261.5 369.4 L261 369.4 L260.5 369.4 L260 369.4 L259.5 369.4 L259 369.4 L258.5 369.4 L258 369.4 L257.5 369.4 L257 369.4 L256.5 369.4 L256 369.4 L255.5 369.4 L255 369.4 L254.5 369.4 L254 369.4 L253.5 369.4 L253 369.4 L252.5 369.4 L252 369.4 L251.5 369.4 L251 369.4 L250.5 369.4 L250 369.4 L249.5 369.4 L249 369.4 L248.5 369.4 L248 369.4 L247.5 369.4 L247 369.4 L246.5 369.3 L246 368.7 L245.5 368.2 L245 367.6 L244.5 367.1 L244 366.6 L243.5 366 L243 365.5 L242.5 364.9 L242 364.4 L241.5 363.8 L241 363.3 L240.5 362.7 L240 362.2Z" fill="#fdebeb"/><path d="M334 368.7 L334.5 368 L335 367.7 L335.5 367.7 L336 367.6 L336.5 367.5 L337 367.5 L337.5 367.4 L338 367.3 L338.5 367.3 L339 367.2 L339.5 367.1 L340 367.1 L340.5 367 L341 366.9 L341.5 366.9 L342 366.8 L342.5 366.2 L343 365.4 L343.5 364.5 L344 363.7 L344.5 362.9 L345 362.1 L345.5 361.3 L346 360.5 L346.5 359.7 L347 358.9 L347.5 358.1 L348 357.3 L348.5 356.5 L349 355.7 L349.5 354.9 L350 354.8 L350.5 354.8 L351 354.7 L351.5 354.6 L352 354.6 L352.5 354.5 L353 354.4 L353.5 354.4 L354 354.3 L354.5 354.2 L355 354.2 L355.5 354.1 L356 354 L356.5 354 L357 353.9 L357.5 353.9 L358 353.9 L358.5 353.9 L359 353.9 L359.5 353.9 L360 353.9 L360.5 353.9 L361 353.9 L361.5 353.9 L362 353.9 L362.5 353.9 L363 353.9 L363.5 353.9 L364 353.9 L364.5 353.6 L365 353.3 L365.5 353 L366 352.6 L366.5 352.3 L367 352 L367.5 351.7 L368 351.4 L368.5 351.1 L369 350.7 L369.5 350.4 L370 350.1 L370.5 349.8 L371 349.5 L371.5 349.2 L372 348.9 L372.5 348.5 L373 348.2 L373.5 347.9 L374 347.6 L374.5 347.3 L375 347 L375.5 346.6 L376 346.3 L376.5 346 L377 345.7 L377.5 345.4 L378 345.1 L378.5 344.8 L379 344.5 L379.5 344.4 L380 344.3 L380.5 344.2 L381 344.1 L381.5 344 L382 344 L382.5 343.9 L383 343.8 L383.5 343.7 L384 343.6 L384.5 343.5 L385 343.4 L385.5 343.3 L386 343.3 L386.5 343.2 L387 343.1 L387.5 343 L388 342.9 L388.5 342.8 L389 342.7 L389.5 342.7 L390 342.6 L390.5 342.5 L391 342.4 L391.5 342.3 L392 342.2 L392.5 342.1 L393 342 L393.5 342 L394 341.9 L394.5 341.9 L395 341.9 L395.5 341.9 L396 341.8 L396.5 341.8 L397 341.8 L397.5 341.8 L398 341.8 L398.5 341.8 L399 341.8 L399.5 341.7 L400 341.7 L400.5 341.7 L401 341.7 L401.5 341.7 L402 341.7 L402.5 341.7 L403 341.6 L403.5 341.6 L404 341.6 L404.5 341.6 L405 341.6 L405.5 341.6 L406 341.6 L406.5 341.5 L407 341.5 L407.5 341.5 L408 341.1 L408.5 340.1 L409 339 L409.5 338 L410 337 L410.5 336 L411 334.9 L411.5 333.9 L412 332.9 L412.5 331.8 L413 330.8 L413.5 329.8 L414 329 L414.5 328.1 L415 327.2 L415.5 326.4 L416 325.5 L416.5 324.7 L417 323.8 L417.5 322.9 L418 322.1 L418.5 321.2 L419 320.3 L419.5 319.5 L420 318.6 L420.5 317.8 L421 316.9 L421.5 316.6 L422 316.3 L422.5 316 L423 315.6 L423.5 315.3 L424 315 L424.5 314.7 L425 314.4 L425.5 314.1 L426 313.7 L426.5 313.4 L427 313.1 L427.5 312.8 L428 312.5 L428.5 312.2 L429 311.8 L429.5 311.5 L430 311.2 L430.5 310.9 L431 310.6 L431.5 310.3 L432 309.9 L432.5 309.6 L433 309.3 L433.5 309 L434 308.7 L434.5 308.4 L435 308.1 L435.5 307.8 L436 307.7 L436.5 307.5 L437 307.4 L437.5 307.3 L438 307.2 L438.5 307.1 L439 306.9 L439.5 306.8 L440 306.7 L440.5 306.6 L441 306.5 L441.5 306.3 L442 306.2 L442.5 306.1 L443 306 L443.5 305.8 L444 305.7 L444.5 305.6 L445 305.5 L445.5 305.4 L446 305.2 L446.5 305.1 L447 305 L447.5 304.9 L448 304.8 L448.5 304.6 L449 304.5 L449.5 304.4 L450 304.3 L450.5 304.2 L451 304 L451.5 303.9 L452 303.8 L452.5 303.8 L453 303.8 L453.5 303.8 L454 303.8 L454.5 303.8 L455 303.8 L455.5 303.8 L456 303.8 L456.5 303.8 L457 303.8 L457.5 303.8 L458 303.8 L458.5 303.8 L459 303.8 L459.5 303.5 L460 303.1 L460.5 302.7 L461 302.2 L461.5 301.8 L462 301.4 L462.5 300.9 L463 300.5 L463.5 300.1 L464 299.6 L464.5 299.2 L465 298.8 L465.5 298.3 L466 297.9 L466.5 297.5 L467 297 L467.5 296.6 L468 295.8 L468.5 294.9 L469 294.1 L469.5 293.3 L470 292.5 L470.5 291.6 L471 290.8 L471.5 290 L472 289.2 L472.5 288.3 L473 287.5 L473.5 286.7 L474 285.9 L474.5 285 L475 284.2 L475.5 284.1 L476 284.1 L476.5 284 L477 284 L477.5 283.9 L478 283.8 L478.5 283.8 L479 283.7 L479.5 283.7 L480 283.6 L480.5 283.5 L481 283.5 L481.5 283.4 L482 283.3 L482.5 283.3 L483 283.2 L483.5 283.2 L484 283.1 L484.5 283 L485 283 L485.5 282.9 L486 282.9 L486.5 282.8 L487 282.7 L487.5 282.7 L488 282.6 L488.5 282.6 L489 282.5 L489.5 282.4 L490 282.4 L490.5 282.3 L491 282.2 L491.5 282.2 L492 282.1 L492.5 282.1 L493 282 L493.5 281.9 L494 281.9 L494.5 281.8 L495 281.8 L495.5 281.7 L496 281.6 L496.5 281.6 L497 281.5 L497.5 281.5 L498 281.4 L498.5 281.3 L499 281.3 L499.5 281.2 L500 281.1 L500.5 281.1 L501 281 L501.5 281 L502 280.9 L502.5 280.8 L503 280.8 L503.5 280.7 L504 280.7 L504.5 280.6 L505 280.5 L505.5 280.5 L506 280.4 L506.5 280.4 L507 280.3 L507.5 280.3 L508 280.2 L508.5 280.2 L509 280.1 L509.5 280.1 L510 280 L510.5 280 L511 279.9 L511.5 279.9 L512 279.8 L512.5 279.8 L513 279.7 L513.5 279.7 L514 279.6 L514.5 279.5 L515 279.5 L515.5 279.4 L516 279.4 L516.5 279.3 L517 279.3 L517.5 279.2 L518 279.2 L518.5 279.1 L519 279.1 L519.5 279 L520 279 L520.5 278.9 L521 278.9 L521.5 278.8 L522 278.8 L522.5 278.7 L523 278.7 L523.5 278.6 L524 278.6 L524.5 278.5 L525 278.4 L525.5 278.4 L526 278.3 L526.5 278.2 L527 277.7 L527.5 277.2 L528 276.8 L528.5 276.3 L529 275.8 L529.5 275.3 L530 274.9 L530.5 274.4 L531 273.9 L531.5 273.4 L532 273 L532.5 272.5 L533 272 L533.5 272 L534 272 L534.5 272 L535 272 L535.5 272 L536 271.9 L536.5 271.9 L537 271.9 L537.5 271.9 L538 271.9 L538.5 271.9 L539 271.9 L539.5 271.9 L540 271.9 L540.5 271.9 L541 271.8 L541.5 271.8 L542 271.8 L542.5 271.8 L543 271.8 L543.5 271.8 L544 271.8 L544.5 271.8 L545 271.8 L545.5 271.8 L546 271.8 L546.5 271.7 L547 271.7 L547.5 271.7 L548 271.7 L548.5 271.7 L549 271.7 L549.5 271.7 L550 271.7 L550.5 271.7 L551 271.7 L551.5 271.6 L552 271.6 L552.5 271.6 L553 271.6 L553.5 271.6 L554 271.5 L554.5 271.3 L555 271.1 L555.5 271 L556 270.8 L556.5 270.6 L557 270.4 L557.5 270.2 L558 270 L558.5 269.8 L559 269.6 L559.5 269.5 L560 269.3 L560.5 269.1 L561 268.9 L561.5 268.7 L562 268.5 L562.5 268.3 L563 268.1 L563.5 268 L564 267.7 L564.5 267.5 L565 267.3 L565.5 267 L566 266.8 L566.5 266.5 L567 266.3 L567.5 266.1 L568 265.8 L568.5 265.6 L569 265.4 L569.5 265.1 L570 264.9 L570.5 264.7 L571 264.4 L571.5 264.2 L572 264 L572.5 263.7 L573 263.5 L573.5 263.3 L574 263 L574.5 262.8 L575 262.6 L575.5 262.3 L576 262.1 L576.5 261.9 L577 261.6 L577.5 261.4 L578 261.3 L578.5 261.3 L579 261.3 L579.5 261.3 L580 261.3 L580.5 261.3 L581 261.3 L581.5 261.3 L582 261.3 L582.5 261.3 L583 261.3 L583.5 261.3 L584 261.3 L584.5 261.3 L585 261.3 L585.5 261.2 L586 260.9 L586.5 260.6 L587 260.3 L587.5 260 L588 259.7 L588.5 259.4 L589 259.1 L589.5 258.7 L590 258.4 L590.5 258.1 L591 257.8 L591.5 257.5 L592 257.2 L592.5 256.9 L593 256.5 L593.5 255.9 L594 255.4 L594.5 254.9 L595 254.3 L595.5 253.8 L596 253.3 L596.5 252.7 L597 252.2 L597.5 251.7 L598 251.1 L598.5 250.6 L599 250.1 L599.5 249.5 L600 249 L600.5 248.7 L601 248.4 L601.5 248.1 L602 247.8 L602.5 247.5 L603 247.2 L603.5 246.9 L604 246.6 L604.5 246.3 L605 246.1 L605.5 245.8 L606 245.5 L606.5 245.2 L607 244.9 L607.5 244.6 L608 244.6 L608.5 244.6 L609 244.6 L609.5 244.6 L610 244.6 L610.5 244.6 L611 244.6 L611.5 244.6 L612 244.6 L612.5 244.6 L613 244.6 L613.5 244.6 L614 244.6 L614.5 244.6 L615 244.4 L615.5 243.7 L616 242.9 L616.5 242.2 L617 241.4 L617.5 240.7 L618 239.9 L618.5 239.2 L619 238.4 L619.5 237.6 L620 236.9 L620.5 236.1 L621 235.4 L621.5 234.6 L622 233.9 L622.5 233.1 L623 232.3 L623.5 231.4 L624 230.6 L624.5 229.8 L625 229 L625.5 228.2 L626 227.4 L626.5 226.6 L627 225.7 L627.5 224.9 L628 224.1 L628.5 223.3 L629 222.5 L629.5 221.7 L630 221.3 L630.5 221.2 L631 221 L631.5 220.8 L632 220.6 L632.5 220.4 L633 220.2 L633.5 220 L634 219.8 L634.5 219.6 L635 219.5 L635.5 219.3 L636 219.1 L636.5 218.9 L637 218.7 L637.5 218.6 L638 218.6 L638.5 218.5 L639 218.4 L639.5 218.4 L640 218.3 L640.5 218.2 L641 218.2 L641.5 218.1 L642 218 L642.5 217.9 L643 217.9 L643.5 217.8 L644 217.7 L644.5 217.7 L645 217.6 L645.5 217.5 L646 217.5 L646.5 217.4 L647 217.3 L647.5 217.3 L648 217.2 L648.5 217.1 L649 217.1 L649.5 217 L650 216.9 L650.5 216.9 L651 216.8 L651.5 216.7 L652 216.3 L652.5 215.8 L653 215.4 L653.5 214.9 L654 214.4 L654.5 213.9 L655 213.4 L655.5 213 L656 212.5 L656.5 212 L657 211.5 L657.5 211 L658 210.6 L658.5 210.1 L659 209.6 L659.5 209.5 L660 209.5 L660.5 209.4 L661 209.4 L661.5 209.3 L662 209.3 L662.5 209.2 L663 209.2 L663.5 209.1 L664 209.1 L664.5 209 L665 209 L665.5 208.9 L666 208.9 L666.5 208.8 L667 208.8 L667.5 208.7 L668 208.7 L668.5 208.6 L669 208.6 L669.5 208.5 L670 208.5 L670.5 208.4 L671 208.3 L671.5 208.1 L672 207.9 L672.5 207.7 L673 207.5 L673.5 207.3 L674 207.1 L674.5 207 L675 206.8 L675.5 206.6 L676 206.4 L676.5 206.2 L677 206 L677.5 205.9 L678 205.7 L678.5 205.5 L679 205.3 L679.5 205.3 L680 205.2 L680.5 205.2 L681 205.1 L681.5 205.1 L682 205 L682.5 205 L683 205 L683.5 204.9 L684 204.9 L684.5 204.8 L685 204.8 L685.5 204.8 L686 204.7 L686.5 204.7 L687 204.6 L687.5 204.6 L688 204.5 L688.5 204.5 L689 204.5 L689.5 204.4 L690 204.5 L690.5 204.8 L691 205 L691.5 205.2 L692 205.4 L692.5 205.7 L693 205.9 L693.5 206.1 L694 206.3 L694.5 206.6 L695 206.8 L695.5 207 L696 207.3 L696.5 207.5 L697 207.8 L697.5 208.1 L698 208.4 L698.5 208.7 L699 209 L699.5 209.3 L700 209.6 L700.5 209.9 L701 210.2 L701.5 210.5 L702 210.7 L702.5 211 L703 211.3 L703.5 211.5 L704 211.5 L704.5 211.5 L705 211.6 L705.5 211.6 L706 211.6 L706.5 211.6 L707 211.6 L707.5 211.6 L708 211.6 L708.5 211.7 L709 211.7 L709.5 211.7 L710 211.7 L710.5 211.7 L711 211.7 L711.5 211.7 L712 211.8 L712.5 211.8 L713 211.8 L713.5 211.8 L714 211.8 L714.5 211.8 L715 211.9 L715.5 211.9 L716 211.9 L716.5 211.9 L717 211.9 L717.5 211.9 L718 211.9 L718.5 212 L719 212 L719.5 212 L720 212 L720.5 212 L721 212 L721.5 212 L722 212 L722.5 212 L723 212 L723.5 212 L724 212 L724.5 212 L725 211.9 L725.5 211.9 L726 211.9 L726.5 211.9 L727 211.9 L727.5 211.9 L728 211.9 L728.5 211.9 L729 211.9 L729.5 211.9 L730 211.9 L730.5 211.9 L731 211.9 L731.5 211.9 L732 211.9 L732.5 211.9 L733 211.9 L733.5 211.9 L734 211.9 L734.5 211.9 L735 211.9 L735.5 211.8 L736 211.8 L736.5 211.8 L737 211.8 L737.5 211.8 L738 211.8 L738.5 211.8 L739 211.8 L739.5 211.8 L740 211.8 L740.5 211.9 L741 212.1 L741.5 212.2 L742 212.3 L742.5 212.4 L743 212.6 L743.5 212.7 L744 212.8 L744.5 213 L745 213.1 L745.5 213.2 L746 213.3 L746.5 213.5 L747 213.6 L747.5 213.7 L748 214 L748.5 214.2 L749 214.5 L749.5 214.7 L750 215 L750.5 215.2 L751 215.5 L751.5 215.7 L752 215.9 L752.5 216.2 L753 216.4 L753.5 216.7 L754 216.9 L754.5 217.2 L755 217.4 L755.5 217.6 L756 217.8 L756.5 217.9 L757 218.1 L757.5 218.3 L758 218.5 L758.5 218.7 L759 218.9 L759.5 219.1 L760 219.3 L760.5 219.5 L761 219.6 L761.5 219.8 L762 220 L762.5 220 L763 219.8 L763.5 219.6 L764 219.4 L764.5 219.2 L765 219 L765.5 218.9 L766 218.7 L766.5 218.5 L767 218.3 L767.5 218.1 L768 217.9 L768.5 217.7 L769 217.5 L769.5 217.3 L770 217.3 L770.5 217.2 L771 217.2 L771.5 217.2 L772 217.1 L772.5 217.1 L773 217.1 L773.5 217 L774 217 L774.5 217 L775 216.9 L775.5 216.9 L776 216.9 L776.5 216.8 L777 216.8 L777.5 216.9 L778 216.9 L778.5 217 L779 217 L779.5 217.1 L780 217.2 L780.5 217.2 L781 217.3 L781.5 217.3 L782 217.4 L782.5 217.5 L783 217.5 L783.5 217.6 L784 217.7 L784.5 217.7 L785 217.7 L785.5 217.7 L786 217.6 L786.5 217.6 L787 217.6 L787.5 217.6 L788 217.6 L788.5 217.6 L789 217.5 L789.5 217.5 L790 217.5 L790.5 217.5 L791 217.5 L791.5 217.5 L792 217.4 L792.5 217.4 L793 217.4 L793.5 217.4 L794 217.4 L794.5 217.4 L795 217.3 L795.5 217.3 L796 217.3 L796.5 217.2 L797 217.1 L797.5 216.9 L798 216.7 L798.5 216.5 L799 216.3 L799.5 216.2 L800 216 L800.5 215.8 L801 215.6 L801.5 215.5 L802 215.3 L802.5 215.1 L803 214.9 L803.5 214.8 L804 214.6 L804.5 214.4 L805 214.2 L805.5 214.1 L806 213.9 L806.5 213.7 L807 213.6 L807.5 213.5 L808 213.3 L808.5 213.2 L809 213.1 L809.5 213 L810 212.9 L810.5 212.8 L811 212.6 L811.5 212.5 L812 212.4 L812.5 212.3 L813 212.2 L813.5 212 L814 212 L814.5 212 L815 212 L815.5 212 L816 212 L816.5 212 L817 212 L817.5 212 L818 212 L818.5 212 L819 212 L819.5 212 L820 212 L820.5 212 L821 212 L821.5 212 L822 212 L822.5 212 L823 212 L823.5 212 L824 212 L824.5 212 L825 212 L825.5 212 L826 212 L826.5 212 L827 212 L827.5 212 L828 212 L828.5 212 L829 212 L829.5 212 L830 212 L830.5 212 L831 212 L831.5 212 L832 212 L832.5 212 L833 212 L833.5 212 L834 212 L834.5 212 L835 212 L835.5 212 L836 212 L836.5 211.9 L837 211.8 L837.5 211.7 L838 211.6 L838.5 211.5 L839 211.4 L839.5 211.3 L840 211.2 L840.5 211.1 L841 211 L841.5 210.9 L842 210.8 L842.5 210.7 L843 210.6 L843.5 210.6 L844 210.5 L844.5 210.5 L845 210.5 L845.5 210.4 L846 210.4 L846.5 210.4 L847 210.3 L847.5 210.3 L848 210.3 L848.5 210.2 L849 210.2 L849.5 210.2 L850 210.1 L850.5 210.1 L851 210.1 L851.5 210.2 L852 210.2 L852.5 210.3 L853 210.3 L853.5 210.3 L854 210.4 L854.5 210.4 L855 210.5 L855.5 210.5 L856 210.5 L856.5 210.6 L857 210.6 L857.5 210.7 L858 210.7 L858.5 210.7 L859 210.8 L859.5 210.8 L860 210.9 L860.5 210.9 L861 210.9 L861.5 211 L862 211 L862.5 211.1 L863 211.1 L863.5 211.1 L864 211.2 L864.5 211.2 L865 211.3 L865.5 211.3 L866 211.5 L866.5 211.7 L867 211.9 L867.5 212.1 L868 212.3 L868.5 212.5 L869 212.7 L869.5 212.9 L870 213.1 L870.5 213.3 L871 213.5 L871.5 213.7 L872 213.9 L872.5 214.1 L873 214.3 L873 214.2 L872.5 214.2 L872 214.2 L871.5 214.2 L871 214.2 L870.5 214.2 L870 214.2 L869.5 214.2 L869 214.2 L868.5 214.2 L868 214.2 L867.5 214.2 L867 214.2 L866.5 214.2 L866 214.2 L865.5 214.2 L865 214.2 L864.5 214.2 L864 214.2 L863.5 214.2 L863 214.2 L862.5 214.2 L862 214.2 L861.5 214.2 L861 214.2 L860.5 214.2 L860 214.2 L859.5 214.2 L859 214.2 L858.5 214.2 L858 214.2 L857.5 214.2 L857 214.2 L856.5 214.2 L856 214.2 L855.5 214.2 L855 214.2 L854.5 214.2 L854 214.2 L853.5 214.2 L853 214.2 L852.5 214.2 L852 214.2 L851.5 214.2 L851 214.2 L850.5 214.3 L850 214.9 L849.5 215.5 L849 216.1 L848.5 216.7 L848 217.3 L847.5 217.9 L847 218.5 L846.5 219.1 L846 219.7 L845.5 220.3 L845 220.9 L844.5 221.5 L844 222 L843.5 222.6 L843 223.2 L842.5 223.8 L842 224.4 L841.5 224.9 L841 224.9 L840.5 224.9 L840 224.9 L839.5 224.9 L839 224.9 L838.5 224.9 L838 224.9 L837.5 224.9 L837 224.9 L836.5 224.9 L836 224.9 L835.5 224.9 L835 224.9 L834.5 224.9 L834 224.9 L833.5 224.9 L833 224.9 L832.5 224.9 L832 224.9 L831.5 224.9 L831 224.9 L830.5 224.9 L830 224.9 L829.5 224.9 L829 224.9 L828.5 224.9 L828 224.9 L827.5 224.9 L827 224.9 L826.5 224.9 L826 224.9 L825.5 224.9 L825 224.9 L824.5 224.9 L824 224.9 L823.5 224.9 L823 224.9 L822.5 224.9 L822 224.9 L821.5 224.9 L821 224.9 L820.5 224.9 L820 224.9 L819.5 224.9 L819 224.9 L818.5 224.9 L818 224.9 L817.5 224.9 L817 224.9 L816.5 224.9 L816 224.9 L815.5 224.9 L815 224.9 L814.5 224.9 L814 224.9 L813.5 224.9 L813 224.9 L812.5 224.9 L812 224.9 L811.5 224.9 L811 224.9 L810.5 224.9 L810 224.9 L809.5 224.9 L809 224.9 L808.5 224.9 L808 224.9 L807.5 224.9 L807 224.9 L806.5 224.9 L806 224.9 L805.5 224.9 L805 224.9 L804.5 224.9 L804 224.9 L803.5 224.9 L803 224.9 L802.5 224.9 L802 224.9 L801.5 224.9 L801 224.9 L800.5 224.9 L800 224.9 L799.5 224.9 L799 224.9 L798.5 224.9 L798 224.9 L797.5 224.9 L797 224.9 L796.5 224.9 L796 224.9 L795.5 224.9 L795 224.9 L794.5 224.9 L794 224.9 L793.5 224.9 L793 224.9 L792.5 224.9 L792 224.9 L791.5 225.1 L791 225.5 L790.5 225.9 L790 226.2 L789.5 226.6 L789 227 L788.5 227.4 L788 227.7 L787.5 228.1 L787 228.5 L786.5 228.8 L786 229.2 L785.5 229.6 L785 230 L784.5 230.3 L784 230.8 L783.5 231.3 L783 231.9 L782.5 232.4 L782 232.9 L781.5 233.5 L781 234 L780.5 234.5 L780 235 L779.5 235.6 L779 236.1 L778.5 236.6 L778 237.1 L777.5 237.7 L777 238.2 L776.5 238.2 L776 238.3 L775.5 238.3 L775 238.3 L774.5 238.4 L774 238.4 L773.5 238.4 L773 238.5 L772.5 238.5 L772 238.5 L771.5 238.6 L771 238.6 L770.5 238.6 L770 238.7 L769.5 238.7 L769 239 L768.5 239.2 L768 239.4 L767.5 239.6 L767 239.8 L766.5 240 L766 240.2 L765.5 240.4 L765 240.6 L764.5 240.8 L764 241 L763.5 241.3 L763 241.5 L762.5 241.7 L762 241.8 L761.5 241.8 L761 241.8 L760.5 241.8 L760 241.8 L759.5 241.8 L759 241.8 L758.5 241.8 L758 241.8 L757.5 241.8 L757 241.8 L756.5 241.8 L756 241.8 L755.5 241.8 L755 241.8 L754.5 241.8 L754 241.8 L753.5 241.8 L753 241.8 L752.5 241.8 L752 241.8 L751.5 241.8 L751 241.8 L750.5 241.8 L750 241.8 L749.5 241.8 L749 241.8 L748.5 241.8 L748 241.8 L747.5 241.8 L747 241.8 L746.5 241.8 L746 241.8 L745.5 241.8 L745 241.8 L744.5 241.8 L744 241.8 L743.5 241.8 L743 241.8 L742.5 241.8 L742 241.8 L741.5 241.8 L741 241.8 L740.5 241.8 L740 241.8 L739.5 241.8 L739 241.8 L738.5 241.8 L738 241.8 L737.5 241.8 L737 241.8 L736.5 241.8 L736 241.8 L735.5 241.8 L735 241.8 L734.5 241.8 L734 241.8 L733.5 241.8 L733 241.8 L732.5 241.8 L732 241.8 L731.5 241.8 L731 241.8 L730.5 241.8 L730 241.8 L729.5 241.8 L729 241.8 L728.5 241.8 L728 241.8 L727.5 241.8 L727 241.8 L726.5 241.8 L726 241.8 L725.5 241.8 L725 241.8 L724.5 241.8 L724 241.8 L723.5 241.8 L723 241.8 L722.5 241.8 L722 241.8 L721.5 241.8 L721 241.8 L720.5 241.8 L720 241.8 L719.5 241.8 L719 241.8 L718.5 241.8 L718 241.8 L717.5 241.8 L717 241.8 L716.5 241.8 L716 241.8 L715.5 241.8 L715 241.8 L714.5 241.8 L714 241.8 L713.5 241.8 L713 241.8 L712.5 241.8 L712 241.8 L711.5 241.8 L711 241.8 L710.5 242 L710 242.1 L709.5 242.2 L709 242.3 L708.5 242.4 L708 242.5 L707.5 242.6 L707 242.7 L706.5 242.8 L706 242.9 L705.5 243 L705 243.1 L704.5 243.3 L704 243.4 L703.5 243.5 L703 243.6 L702.5 243.7 L702 243.8 L701.5 243.9 L701 244 L700.5 244.1 L700 244.2 L699.5 244.3 L699 244.4 L698.5 244.6 L698 244.7 L697.5 244.8 L697 244.9 L696.5 245 L696 245.1 L695.5 245.1 L695 245.2 L694.5 245.3 L694 245.4 L693.5 245.5 L693 245.6 L692.5 245.7 L692 245.8 L691.5 245.9 L691 245.9 L690.5 246 L690 246.1 L689.5 246.2 L689 246.3 L688.5 246.4 L688 246.5 L687.5 246.6 L687 246.7 L686.5 246.7 L686 246.8 L685.5 246.9 L685 247 L684.5 247.1 L684 247.2 L683.5 247.3 L683 247.4 L682.5 247.5 L682 247.5 L681.5 247.6 L681 247.8 L680.5 248 L680 248.3 L679.5 248.6 L679 248.9 L678.5 249.2 L678 249.5 L677.5 249.8 L677 250.1 L676.5 250.4 L676 250.7 L675.5 251 L675 251.2 L674.5 251.5 L674 251.8 L673.5 252 L673 252 L672.5 252.1 L672 252.1 L671.5 252.1 L671 252.2 L670.5 252.2 L670 252.3 L669.5 252.3 L669 252.3 L668.5 252.4 L668 252.4 L667.5 252.4 L667 252.5 L666.5 252.5 L666 252.5 L665.5 252.6 L665 252.6 L664.5 252.6 L664 252.7 L663.5 252.7 L663 252.7 L662.5 252.8 L662 252.8 L661.5 252.8 L661 252.9 L660.5 252.9 L660 252.9 L659.5 253 L659 253 L658.5 253.1 L658 253.2 L657.5 253.3 L657 253.4 L656.5 253.5 L656 253.6 L655.5 253.7 L655 253.8 L654.5 253.9 L654 253.9 L653.5 254 L653 254.1 L652.5 254.2 L652 254.3 L651.5 254.4 L651 254.4 L650.5 254.4 L650 254.4 L649.5 254.4 L649 254.4 L648.5 254.4 L648 254.4 L647.5 254.4 L647 254.4 L646.5 254.4 L646 254.4 L645.5 254.4 L645 254.4 L644.5 254.4 L644 254.4 L643.5 254.4 L643 254.4 L642.5 254.4 L642 254.4 L641.5 254.4 L641 254.4 L640.5 254.4 L640 254.4 L639.5 254.4 L639 254.4 L638.5 254.4 L638 254.4 L637.5 254.4 L637 254.4 L636.5 254.9 L636 255.4 L635.5 255.9 L635 256.5 L634.5 257 L634 257.5 L633.5 258 L633 258.5 L632.5 259 L632 259.5 L631.5 260 L631 260.6 L630.5 261.1 L630 261.6 L629.5 262.2 L629 263.5 L628.5 264.7 L628 265.9 L627.5 267.1 L627 268.4 L626.5 269.6 L626 270.8 L625.5 272.1 L625 273.3 L624.5 274.5 L624 275.7 L623.5 277 L623 278.2 L622.5 279.4 L622 280.5 L621.5 281.4 L621 282.3 L620.5 283.3 L620 284.2 L619.5 285.1 L619 286.1 L618.5 287 L618 287.9 L617.5 288.9 L617 289.8 L616.5 290.7 L616 291.6 L615.5 292.6 L615 293.5 L614.5 293.7 L614 293.8 L613.5 293.8 L613 293.8 L612.5 293.9 L612 293.9 L611.5 293.9 L611 294 L610.5 294 L610 294 L609.5 294.1 L609 294.1 L608.5 294.1 L608 294.2 L607.5 294.2 L607 294.4 L606.5 294.7 L606 294.9 L605.5 295.2 L605 295.4 L604.5 295.6 L604 295.9 L603.5 296.1 L603 296.4 L602.5 296.6 L602 296.8 L601.5 297.1 L601 297.3 L600.5 297.6 L600 297.8 L599.5 298.1 L599 298.5 L598.5 298.8 L598 299.1 L597.5 299.4 L597 299.8 L596.5 300.1 L596 300.4 L595.5 300.8 L595 301.1 L594.5 301.4 L594 301.7 L593.5 302.1 L593 302.4 L592.5 302.6 L592 302.6 L591.5 302.6 L591 302.6 L590.5 302.6 L590 302.6 L589.5 302.6 L589 302.6 L588.5 302.6 L588 302.6 L587.5 302.6 L587 302.6 L586.5 302.6 L586 302.6 L585.5 302.6 L585 302.6 L584.5 302.6 L584 302.6 L583.5 302.6 L583 302.6 L582.5 302.6 L582 302.6 L581.5 302.6 L581 302.6 L580.5 302.6 L580 302.6 L579.5 302.6 L579 302.6 L578.5 302.6 L578 302.6 L577.5 302.6 L577 302.6 L576.5 302.6 L576 302.6 L575.5 302.6 L575 302.6 L574.5 302.6 L574 302.6 L573.5 302.6 L573 302.6 L572.5 302.6 L572 302.6 L571.5 302.6 L571 302.6 L570.5 302.7 L570 303 L569.5 303.2 L569 303.4 L568.5 303.6 L568 303.8 L567.5 304 L567 304.3 L566.5 304.5 L566 304.7 L565.5 304.9 L565 305.1 L564.5 305.4 L564 305.6 L563.5 305.8 L563 306 L562.5 306.2 L562 306.5 L561.5 306.7 L561 306.9 L560.5 307.1 L560 307.3 L559.5 307.6 L559 307.8 L558.5 308 L558 308.2 L557.5 308.4 L557 308.6 L556.5 308.9 L556 309 L555.5 309 L555 309 L554.5 309 L554 309 L553.5 309 L553 309 L552.5 309 L552 309 L551.5 309 L551 309 L550.5 309 L550 309 L549.5 309 L549 309 L548.5 309 L548 309 L547.5 309 L547 309 L546.5 309 L546 309 L545.5 309 L545 309 L544.5 309 L544 309 L543.5 309 L543 309 L542.5 309 L542 309 L541.5 309 L541 309 L540.5 309 L540 309 L539.5 309 L539 309 L538.5 309 L538 309 L537.5 309 L537 309 L536.5 309 L536 309 L535.5 309 L535 309 L534.5 309 L534 309 L533.5 309 L533 309 L532.5 309 L532 309 L531.5 309 L531 309 L530.5 309 L530 309 L529.5 309 L529 309 L528.5 309 L528 309 L527.5 309 L527 309 L526.5 309 L526 309 L525.5 309 L525 309 L524.5 309 L524 309 L523.5 309 L523 309 L522.5 309 L522 309 L521.5 309 L521 309 L520.5 309 L520 309 L519.5 309 L519 309 L518.5 309 L518 309 L517.5 309 L517 309 L516.5 309 L516 309 L515.5 309 L515 309 L514.5 309 L514 309 L513.5 309 L513 309 L512.5 309 L512 309 L511.5 309 L511 309 L510.5 309 L510 309 L509.5 309 L509 309 L508.5 309 L508 309 L507.5 309 L507 309 L506.5 309 L506 309 L505.5 309 L505 309 L504.5 309 L504 309 L503.5 309 L503 309 L502.5 309 L502 309 L501.5 309 L501 309 L500.5 309 L500 309 L499.5 309 L499 309 L498.5 309 L498 309 L497.5 309 L497 309 L496.5 309 L496 309 L495.5 309 L495 309 L494.5 309 L494 309 L493.5 309 L493 309 L492.5 309 L492 309 L491.5 309 L491 309 L490.5 309 L490 309 L489.5 309 L489 309 L488.5 309 L488 309 L487.5 309 L487 309.1 L486.5 309.2 L486 309.3 L485.5 309.3 L485 309.4 L484.5 309.5 L484 309.6 L483.5 309.6 L483 309.7 L482.5 309.8 L482 309.9 L481.5 309.9 L481 310 L480.5 310.1 L480 310.2 L479.5 310.2 L479 310.3 L478.5 310.4 L478 310.5 L477.5 310.5 L477 310.6 L476.5 310.7 L476 310.8 L475.5 310.8 L475 310.9 L474.5 311.6 L474 312.2 L473.5 312.9 L473 313.6 L472.5 314.2 L472 314.9 L471.5 315.6 L471 316.2 L470.5 316.9 L470 317.6 L469.5 318.2 L469 318.9 L468.5 319.6 L468 320.2 L467.5 320.9 L467 320.9 L466.5 320.9 L466 320.9 L465.5 320.9 L465 320.9 L464.5 320.9 L464 320.9 L463.5 320.9 L463 320.9 L462.5 320.9 L462 320.9 L461.5 320.9 L461 320.9 L460.5 320.9 L460 320.9 L459.5 320.9 L459 320.9 L458.5 320.9 L458 320.9 L457.5 320.9 L457 320.9 L456.5 320.9 L456 320.9 L455.5 320.9 L455 320.9 L454.5 320.9 L454 320.9 L453.5 320.9 L453 320.9 L452.5 320.9 L452 320.9 L451.5 320.9 L451 320.9 L450.5 320.9 L450 320.9 L449.5 320.9 L449 320.9 L448.5 320.9 L448 320.9 L447.5 320.9 L447 320.9 L446.5 320.9 L446 320.9 L445.5 320.9 L445 320.9 L444.5 320.9 L444 320.9 L443.5 320.9 L443 320.9 L442.5 320.9 L442 320.9 L441.5 320.9 L441 320.9 L440.5 320.9 L440 320.9 L439.5 320.9 L439 320.9 L438.5 320.9 L438 320.9 L437.5 320.9 L437 320.9 L436.5 320.9 L436 320.9 L435.5 320.9 L435 320.9 L434.5 320.9 L434 320.9 L433.5 320.9 L433 320.9 L432.5 320.9 L432 320.9 L431.5 320.9 L431 320.9 L430.5 320.9 L430 320.9 L429.5 320.9 L429 321.3 L428.5 321.8 L428 322.2 L427.5 322.7 L427 323.2 L426.5 323.7 L426 324.2 L425.5 324.6 L425 325.1 L424.5 325.6 L424 326.1 L423.5 326.6 L423 327 L422.5 327.5 L422 328 L421.5 328.5 L421 328.9 L420.5 329.4 L420 329.9 L419.5 330.5 L419 331.1 L418.5 331.7 L418 332.3 L417.5 332.9 L417 333.5 L416.5 334 L416 334.6 L415.5 335.5 L415 336.7 L414.5 337.9 L414 339.2 L413.5 340.4 L413 341.6 L412.5 342.8 L412 344 L411.5 345.3 L411 346.5 L410.5 347.7 L410 348.9 L409.5 350.1 L409 351.4 L408.5 352.6 L408 353.8 L407.5 354.3 L407 354.3 L406.5 354.3 L406 354.3 L405.5 354.3 L405 354.3 L404.5 354.3 L404 354.3 L403.5 354.3 L403 354.3 L402.5 354.3 L402 354.3 L401.5 354.3 L401 354.3 L400.5 354.3 L400 354.3 L399.5 354.3 L399 354.3 L398.5 354.3 L398 354.3 L397.5 354.3 L397 354.3 L396.5 354.3 L396 354.3 L395.5 354.3 L395 354.3 L394.5 354.3 L394 354.3 L393.5 354.3 L393 354.3 L392.5 354.3 L392 354.3 L391.5 354.3 L391 354.3 L390.5 354.3 L390 354.3 L389.5 354.3 L389 354.3 L388.5 354.3 L388 354.3 L387.5 354.3 L387 354.3 L386.5 354.3 L386 354.3 L385.5 354.3 L385 354.3 L384.5 354.3 L384 354.3 L383.5 354.3 L383 354.3 L382.5 354.3 L382 354.3 L381.5 354.3 L381 354.3 L380.5 354.3 L380 354.3 L379.5 354.3 L379 354.3 L378.5 354.5 L378 354.7 L377.5 355 L377 355.2 L376.5 355.4 L376 355.7 L375.5 355.9 L375 356.2 L374.5 356.4 L374 356.6 L373.5 356.9 L373 357.1 L372.5 357.3 L372 357.6 L371.5 357.8 L371 358.1 L370.5 358.3 L370 358.5 L369.5 358.8 L369 359 L368.5 359.3 L368 359.5 L367.5 359.7 L367 360 L366.5 360.2 L366 360.4 L365.5 360.7 L365 360.9 L364.5 361.2 L364 361.4 L363.5 361.4 L363 361.5 L362.5 361.5 L362 361.5 L361.5 361.5 L361 361.6 L360.5 361.6 L360 361.6 L359.5 361.6 L359 361.7 L358.5 361.7 L358 361.7 L357.5 361.8 L357 361.8 L356.5 361.8 L356 361.8 L355.5 361.9 L355 361.9 L354.5 361.9 L354 362 L353.5 362 L353 362 L352.5 362 L352 362.1 L351.5 362.1 L351 362.1 L350.5 362.1 L350 362.2 L349.5 362.2 L349 362.7 L348.5 363.2 L348 363.7 L347.5 364.1 L347 364.6 L346.5 365.1 L346 365.6 L345.5 366.1 L345 366.6 L344.5 367.1 L344 367.6 L343.5 368 L343 368.5 L342.5 369 L342 369.4 L341.5 369.4 L341 369.4 L340.5 369.4 L340 369.4 L339.5 369.4 L339 369.4 L338.5 369.4 L338 369.4 L337.5 369.4 L337 369.4 L336.5 369.4 L336 369.4 L335.5 369.4 L335 369.4 L334.5 369.4 L334 369.4Z" fill="#e9f5ea"/><path d="M873 214.3 L873.5 214.5 L874 214.7 L874.5 214.9 L875 215.1 L875.5 215.3 L876 215.5 L876.5 215.8 L877 216 L877.5 216.2 L878 216.4 L878.5 216.6 L879 216.8 L879.5 217 L880 217.2 L880.5 217.4 L881 217.6 L881.5 217.8 L882 218.1 L882.5 218.3 L883 218.5 L883.5 218.7 L884 218.9 L884.5 219.1 L885 219.3 L885.5 219.5 L886 219.7 L886.5 219.9 L887 220.1 L887.5 219.8 L888 219.6 L888.5 219.4 L889 219.2 L889.5 219 L890 218.8 L890.5 218.6 L891 218.4 L891.5 218.2 L892 217.9 L892.5 217.7 L893 217.5 L893.5 217.3 L894 217.1 L894.5 216.9 L895 216.8 L895.5 216.8 L896 216.8 L896.5 216.8 L897 216.8 L897.5 216.8 L898 216.8 L898.5 216.8 L899 216.8 L899.5 216.8 L900 216.8 L900.5 216.8 L901 216.8 L901.5 216.8 L902 216.8 L902.5 216.8 L903 216.8 L903.5 216.8 L904 216.8 L904.5 216.8 L905 216.8 L905.5 216.8 L906 216.8 L906.5 216.8 L907 216.8 L907.5 216.8 L908 216.8 L908.5 216.8 L909 216.8 L909.5 216.8 L910 217.1 L910.5 217.5 L911 217.8 L911.5 218.2 L912 218.5 L912.5 218.8 L913 219.2 L913.5 219.5 L914 219.8 L914.5 220.2 L915 220.5 L915.5 220.9 L916 221.2 L916.5 221.5 L917 221.8 L917.5 221.7 L918 221.6 L918.5 221.6 L919 221.5 L919.5 221.4 L920 221.3 L920.5 221.3 L921 221.2 L921.5 221.1 L922 221 L922.5 221 L923 220.9 L923.5 220.8 L924 220.7 L924.5 220.7 L925 220.6 L925.5 220.5 L926 220.5 L926.5 220.4 L927 220.3 L927.5 220.3 L928 220.2 L928.5 220.1 L929 220.1 L929.5 220 L930 219.9 L930.5 219.9 L931 219.8 L931.5 219.7 L932 219.7 L932.5 219.7 L933 219.7 L933.5 219.7 L934 219.7 L934.5 219.7 L935 219.7 L935.5 219.7 L936 219.7 L936.5 219.7 L937 219.7 L937.5 219.7 L938 219.7 L938.5 219.7 L939 219.7 L939.5 219.8 L940 219.9 L940.5 220 L941 220.1 L941.5 220.2 L942 220.3 L942.5 220.4 L943 220.5 L943.5 220.6 L944 220.7 L944.5 220.8 L945 220.9 L945.5 221 L946 221.1 L946.5 221.2 L947 221.3 L947.5 221.4 L948 221.5 L948.5 221.5 L949 221.6 L949.5 221.7 L950 221.8 L950.5 221.9 L951 222 L951.5 222.1 L952 222.2 L952.5 222.3 L953 222.4 L953.5 222.5 L954 222.6 L954.5 222.7 L955 222.7 L955.5 222.8 L956 222.8 L956.5 222.8 L957 222.9 L957.5 222.9 L958 223 L958.5 223 L959 223.1 L959.5 223.1 L960 223.2 L960.5 223.2 L961 223.3 L961.5 223.3 L962 223.2 L962.5 223.2 L963 223.1 L963.5 223.1 L964 223 L964.5 223 L965 222.9 L965.5 222.9 L966 222.8 L966.5 222.8 L967 222.7 L967.5 222.7 L968 222.6 L968.5 222.6 L969 222.4 L969.5 222.2 L970 222.1 L970.5 221.9 L971 221.8 L971.5 221.6 L972 221.4 L972.5 221.3 L973 221.1 L973.5 220.9 L974 220.8 L974.5 220.6 L975 220.5 L975.5 220.3 L976 220.1 L976.5 219.8 L977 219.5 L977.5 219.2 L978 218.9 L978.5 218.6 L979 218.3 L979.5 218.1 L980 217.8 L980.5 217.5 L981 217.2 L981.5 216.9 L982 216.6 L982.5 216.3 L983 216 L983.5 215.8 L984 215.5 L984.5 215.3 L985 215.1 L985.5 214.9 L986 214.7 L986.5 214.4 L987 214.2 L987.5 214 L988 213.8 L988.5 213.5 L989 213.3 L989.5 213.1 L990 212.9 L990.5 212.6 L991 212.6 L991.5 212.5 L992 212.5 L992.5 212.4 L993 212.4 L993.5 212.3 L994 212.3 L994.5 212.2 L995 212.2 L995.5 212.1 L996 212.1 L996.5 212 L997 212 L997.5 211.9 L998 211.8 L998.5 211.8 L998.5 211.8 L998 211.8 L997.5 211.8 L997 211.8 L996.5 211.8 L996 211.8 L995.5 211.8 L995 211.8 L994.5 211.8 L994 211.8 L993.5 211.8 L993 211.8 L992.5 211.8 L992 211.8 L991.5 211.8 L991 211.8 L990.5 211.8 L990 211.8 L989.5 211.8 L989 211.8 L988.5 211.8 L988 211.8 L987.5 211.8 L987 211.8 L986.5 211.8 L986 211.8 L985.5 211.8 L985 211.8 L984.5 211.8 L984 211.8 L983.5 211.8 L983 211.8 L982.5 211.8 L982 211.8 L981.5 211.8 L981 211.8 L980.5 211.8 L980 211.8 L979.5 211.8 L979 211.8 L978.5 211.8 L978 211.8 L977.5 211.8 L977 211.8 L976.5 211.8 L976 211.8 L975.5 211.8 L975 211.8 L974.5 211.8 L974 211.8 L973.5 211.8 L973 211.8 L972.5 211.8 L972 211.8 L971.5 211.8 L971 211.8 L970.5 211.8 L970 211.8 L969.5 211.8 L969 211.8 L968.5 211.8 L968 211.8 L967.5 211.8 L967 211.8 L966.5 211.8 L966 211.8 L965.5 211.8 L965 211.8 L964.5 211.8 L964 211.8 L963.5 211.8 L963 211.8 L962.5 211.8 L962 211.8 L961.5 211.8 L961 211.8 L960.5 211.8 L960 211.8 L959.5 211.8 L959 211.8 L958.5 211.8 L958 211.8 L957.5 211.8 L957 211.8 L956.5 211.8 L956 211.8 L955.5 211.8 L955 211.8 L954.5 211.8 L954 211.8 L953.5 211.8 L953 211.8 L952.5 211.8 L952 211.8 L951.5 211.8 L951 211.8 L950.5 211.8 L950 211.8 L949.5 211.8 L949 211.8 L948.5 211.8 L948 211.8 L947.5 211.8 L947 211.8 L946.5 211.8 L946 211.8 L945.5 211.8 L945 211.8 L944.5 211.8 L944 211.8 L943.5 211.8 L943 211.8 L942.5 211.8 L942 211.8 L941.5 211.8 L941 211.8 L940.5 211.8 L940 211.8 L939.5 211.8 L939 211.8 L938.5 211.8 L938 211.8 L937.5 211.8 L937 211.8 L936.5 211.8 L936 211.8 L935.5 211.8 L935 211.8 L934.5 211.8 L934 211.8 L933.5 211.8 L933 211.8 L932.5 211.8 L932 211.8 L931.5 211.8 L931 211.8 L930.5 211.8 L930 211.8 L929.5 211.8 L929 211.8 L928.5 211.8 L928 211.8 L927.5 211.8 L927 211.8 L926.5 211.8 L926 211.8 L925.5 211.8 L925 211.8 L924.5 211.8 L924 211.8 L923.5 211.8 L923 211.8 L922.5 211.8 L922 211.8 L921.5 211.8 L921 211.8 L920.5 211.8 L920 211.8 L919.5 211.8 L919 211.8 L918.5 211.8 L918 211.8 L917.5 211.8 L917 211.8 L916.5 211.8 L916 211.8 L915.5 211.8 L915 211.8 L914.5 211.8 L914 211.8 L913.5 211.8 L913 211.8 L912.5 211.8 L912 211.8 L911.5 211.8 L911 211.8 L910.5 211.8 L910 211.8 L909.5 211.8 L909 211.8 L908.5 211.8 L908 211.8 L907.5 211.8 L907 211.8 L906.5 211.8 L906 211.8 L905.5 211.8 L905 211.8 L904.5 211.8 L904 211.8 L903.5 211.8 L903 211.8 L902.5 211.8 L902 211.8 L901.5 211.8 L901 211.8 L900.5 211.8 L900 211.8 L899.5 211.8 L899 211.8 L898.5 211.8 L898 211.8 L897.5 211.8 L897 211.8 L896.5 211.8 L896 211.8 L895.5 211.8 L895 211.8 L894.5 211.8 L894 211.9 L893.5 211.9 L893 211.9 L892.5 212 L892 212 L891.5 212.1 L891 212.1 L890.5 212.1 L890 212.2 L889.5 212.2 L889 212.3 L888.5 212.3 L888 212.4 L887.5 212.4 L887 212.4 L886.5 212.5 L886 212.5 L885.5 212.6 L885 212.6 L884.5 212.6 L884 212.7 L883.5 212.7 L883 212.8 L882.5 212.8 L882 212.9 L881.5 212.9 L881 212.9 L880.5 213 L880 213 L879.5 213.1 L879 213.2 L878.5 213.3 L878 213.4 L877.5 213.4 L877 213.5 L876.5 213.6 L876 213.7 L875.5 213.8 L875 213.8 L874.5 213.9 L874 214 L873.5 214.1 L873 214.2Z" fill="#fdebeb"/><path d="M998.5 211.8 L999 211.7 L999.5 211.7 L1000 211.6 L1000.5 211.6 L1001 211.5 L1001.5 211.5 L1002 211.4 L1002.5 211.4 L1003 211.3 L1003.5 211.3 L1004 211.2 L1004.5 211.2 L1005 211.1 L1005.5 211 L1006 210.7 L1006.5 210.3 L1007 210 L1007.5 209.6 L1008 209.2 L1008.5 208.9 L1009 208.5 L1009.5 208.2 L1010 207.8 L1010.5 207.5 L1011 207.1 L1011.5 206.8 L1012 206.4 L1012.5 206 L1013 205.9 L1013.5 205.8 L1014 205.7 L1014.5 205.6 L1015 205.5 L1015.5 205.4 L1016 205.4 L1016.5 205.3 L1017 205.2 L1017.5 205.1 L1018 205 L1018.5 205 L1019 204.9 L1019.5 204.8 L1020 204.7 L1020.5 204.7 L1021 204.7 L1021.5 204.7 L1022 204.7 L1022.5 204.7 L1023 204.7 L1023.5 204.7 L1024 204.7 L1024.5 204.7 L1025 204.7 L1025.5 204.7 L1026 204.7 L1026.5 204.7 L1027 204.7 L1027.5 204.7 L1028 204.4 L1028.5 204.1 L1029 203.9 L1029.5 203.6 L1030 203.3 L1030.5 203 L1031 202.8 L1031.5 202.5 L1032 202.2 L1032.5 201.9 L1033 201.7 L1033.5 201.4 L1034 201.1 L1034.5 200.8 L1035 200.6 L1035.5 200.6 L1036 200.6 L1036.5 200.6 L1037 200.6 L1037.5 200.6 L1038 200.6 L1038.5 200.6 L1039 200.6 L1039.5 200.6 L1040 200.6 L1040.5 200.6 L1041 200.6 L1041.5 200.6 L1042 200.6 L1042.5 200.6 L1043 200.6 L1043.5 200.6 L1044 200.6 L1044.5 200.6 L1045 200.6 L1045.5 200.6 L1046 200.6 L1046.5 200.6 L1047 200.6 L1047.5 200.6 L1048 200.6 L1048.5 200.6 L1049 200.6 L1049.5 200.6 L1050 200.6 L1050.5 200.6 L1051 200.6 L1051.5 200.6 L1052 200.6 L1052.5 200.6 L1053 200.6 L1053.5 200.6 L1054 200.6 L1054.5 200.6 L1055 200.6 L1055.5 200.6 L1056 200.6 L1056.5 200.6 L1057 200.5 L1057.5 200.4 L1058 200.2 L1058.5 200 L1059 199.9 L1059.5 199.7 L1060 199.6 L1060.5 199.4 L1061 199.2 L1061.5 199.1 L1062 198.9 L1062.5 198.7 L1063 197.9 L1063.5 196.9 L1064 195.9 L1064.5 194.9 L1065 193.8 L1065.5 192.8 L1066 191.8 L1066.5 190.8 L1067 189.8 L1067.5 188.8 L1068 187.7 L1068.5 186.5 L1069 185.4 L1069.5 184.3 L1070 183.2 L1070.5 182.1 L1071 181 L1071.5 179.9 L1072 179.3 L1072.5 178.9 L1073 178.4 L1073.5 178 L1074 177.5 L1074.5 177.1 L1075 176.6 L1075.5 176.2 L1076 175.7 L1076.5 175.3 L1077 174.8 L1077.5 174.4 L1078 173.9 L1078.5 173.5 L1079 173 L1079.5 172.9 L1080 172.9 L1080.5 172.8 L1081 172.7 L1081.5 172.6 L1082 172.6 L1082.5 172.5 L1083 172.4 L1083.5 172.3 L1084 172.3 L1084.5 172.2 L1085 172.1 L1085.5 172 L1086 172 L1086.5 171.9 L1087 171.9 L1087.5 171.9 L1088 171.8 L1088.5 171.8 L1089 171.8 L1089.5 171.8 L1090 171.8 L1090.5 171.8 L1091 171.7 L1091.5 171.7 L1092 171.7 L1092.5 171.7 L1093 171.7 L1093.5 171.7 L1094 171.6 L1094.5 171.6 L1095 171.6 L1095.5 171.6 L1096 171.6 L1096.5 171.6 L1097 171.5 L1097.5 171.5 L1098 171.5 L1098.5 171.5 L1099 171.5 L1099.5 171.5 L1100 171.4 L1100.5 171.4 L1101 171.4 L1101.5 171.2 L1102 171.1 L1102.5 170.9 L1103 170.8 L1103.5 170.6 L1104 170.4 L1104.5 170.3 L1105 170.1 L1105.5 170 L1106 169.8 L1106.5 169.6 L1107 169.5 L1107.5 169.3 L1108 169.2 L1108.5 169 L1109 168.9 L1109.5 168.8 L1110 168.8 L1110.5 168.7 L1111 168.6 L1111.5 168.5 L1112 168.4 L1112.5 168.3 L1113 168.3 L1113.5 168.2 L1114 168.1 L1114.5 168 L1115 167.9 L1115.5 167.8 L1116 167.8 L1116.5 167.7 L1117 167.7 L1117.5 167.6 L1118 167.6 L1118.5 167.5 L1119 167.5 L1119.5 167.4 L1120 167.4 L1120.5 167.3 L1121 167.3 L1121.5 167.3 L1122 167.2 L1122.5 167.2 L1123 167.1 L1123.5 167.1 L1124 167.1 L1124.5 167.1 L1125 167.1 L1125.5 167.1 L1126 167.1 L1126.5 167.1 L1127 167.1 L1127.5 167.1 L1128 167.1 L1128.5 167.1 L1129 167.1 L1129.5 167.1 L1130 167.1 L1130.5 167.1 L1131 167.2 L1131.5 167.4 L1132 167.5 L1132.5 167.7 L1133 167.9 L1133.5 168 L1134 168.2 L1134.5 168.3 L1135 168.5 L1135.5 168.6 L1136 168.8 L1136.5 169 L1137 169.1 L1137.5 169.3 L1138 169.4 L1138.5 169.4 L1139 169.4 L1139.5 169.4 L1140 169.5 L1140.5 169.5 L1141 169.5 L1141.5 169.5 L1142 169.5 L1142.5 169.5 L1143 169.5 L1143.5 169.6 L1144 169.6 L1144.5 169.6 L1145 169.6 L1145.5 169.6 L1146 169.6 L1146.5 169.6 L1147 169.7 L1147.5 169.7 L1148 169.7 L1148.5 169.7 L1149 169.7 L1149.5 169.7 L1150 169.7 L1150.5 169.8 L1151 169.8 L1151.5 169.8 L1152 169.8 L1152.5 169.8 L1153 169.8 L1153.5 169.7 L1154 169.7 L1154.5 169.7 L1155 169.6 L1155.5 169.6 L1156 169.6 L1156.5 169.6 L1157 169.5 L1157.5 169.5 L1158 169.5 L1158.5 169.4 L1159 169.4 L1159.5 169.4 L1160 169.4 L1160.5 169.3 L1161 169.3 L1161.5 169.3 L1162 169.3 L1162.5 169.2 L1163 169.2 L1163.5 169.2 L1164 169.1 L1164.5 169.1 L1165 169.1 L1165.5 169.1 L1166 169 L1166.5 169 L1167 169.1 L1167.5 169.2 L1168 169.4 L1168.5 169.5 L1169 169.6 L1169.5 169.8 L1170 169.9 L1170.5 170 L1171 170.1 L1171.5 170.2 L1172 170.4 L1172.5 170.5 L1173 170.6 L1173.5 170.8 L1174 170.9 L1174.5 171 L1175 171 L1175.5 171 L1176 171 L1176.5 171 L1177 171 L1177.5 171 L1178 171 L1178.5 171 L1179 171 L1179.5 171 L1180 171 L1180.5 171 L1181 171 L1181.5 170.9 L1182 170.8 L1182.5 170.7 L1183 170.6 L1183.5 170.5 L1184 170.4 L1184.5 170.3 L1185 170.2 L1185.5 170.1 L1186 170 L1186.5 169.9 L1187 169.8 L1187.5 169.7 L1188 169.6 L1188.5 169.5 L1189 169.4 L1189.5 169.3 L1190 169.2 L1190.5 169.1 L1191 169.1 L1191.5 169 L1192 168.9 L1192.5 168.8 L1193 168.8 L1193.5 168.7 L1194 168.6 L1194.5 168.5 L1195 168.5 L1195.5 168.4 L1196 168.3 L1196.5 168.2 L1197 168.2 L1197.5 168.2 L1198 168.2 L1198.5 168.2 L1199 168.2 L1199.5 168.2 L1200 168.2 L1200.5 168.2 L1201 168.2 L1201.5 168.2 L1202 168.2 L1202.5 168.2 L1203 168.2 L1203.5 168.2 L1204 168.2 L1204.5 168.1 L1205 167.9 L1205.5 167.8 L1206 167.7 L1206.5 167.6 L1207 167.5 L1207.5 167.4 L1208 167.2 L1208.5 167.1 L1209 167 L1209.5 166.9 L1210 166.8 L1210.5 166.3 L1211 165.4 L1211.5 164.4 L1212 163.4 L1212.5 162.5 L1213 161.5 L1213.5 160.6 L1214 159.6 L1214.5 158.7 L1215 157.7 L1215.5 156.7 L1216 155.8 L1216.5 154.8 L1217 153.9 L1217.5 153 L1218 152.3 L1218.5 151.7 L1219 151.1 L1219.5 150.5 L1220 149.8 L1220.5 149.2 L1221 148.6 L1221.5 148 L1222 147.3 L1222.5 146.7 L1223 146.1 L1223.5 145.5 L1224 144.8 L1224 164.7 L1223.5 165.3 L1223 165.8 L1222.5 166.4 L1222 167 L1221.5 167.5 L1221 168.1 L1220.5 168.7 L1220 169.3 L1219.5 169.8 L1219 170.4 L1218.5 171 L1218 171.5 L1217.5 172.1 L1217 172.7 L1216.5 173.3 L1216 173.8 L1215.5 174.4 L1215 175 L1214.5 175.6 L1214 176.2 L1213.5 176.8 L1213 177.3 L1212.5 177.9 L1212 178.5 L1211.5 179.1 L1211 179.7 L1210.5 180.3 L1210 180.5 L1209.5 180.5 L1209 180.5 L1208.5 180.5 L1208 180.5 L1207.5 180.5 L1207 180.5 L1206.5 180.5 L1206 180.5 L1205.5 180.5 L1205 180.5 L1204.5 180.5 L1204 180.5 L1203.5 180.5 L1203 180.5 L1202.5 180.5 L1202 180.5 L1201.5 180.5 L1201 180.5 L1200.5 180.5 L1200 180.5 L1199.5 180.5 L1199 180.5 L1198.5 180.5 L1198 180.5 L1197.5 180.5 L1197 180.5 L1196.5 180.5 L1196 180.5 L1195.5 180.5 L1195 180.5 L1194.5 180.5 L1194 180.5 L1193.5 180.5 L1193 180.5 L1192.5 180.5 L1192 180.5 L1191.5 180.5 L1191 180.5 L1190.5 180.5 L1190 180.5 L1189.5 180.5 L1189 180.5 L1188.5 180.5 L1188 180.5 L1187.5 180.5 L1187 180.5 L1186.5 180.5 L1186 180.5 L1185.5 180.5 L1185 180.5 L1184.5 180.5 L1184 180.5 L1183.5 180.5 L1183 180.5 L1182.5 180.5 L1182 180.5 L1181.5 180.5 L1181 180.5 L1180.5 180.5 L1180 180.5 L1179.5 180.5 L1179 180.5 L1178.5 180.5 L1178 180.5 L1177.5 180.5 L1177 180.5 L1176.5 180.5 L1176 180.5 L1175.5 180.5 L1175 180.5 L1174.5 180.5 L1174 180.5 L1173.5 180.5 L1173 180.5 L1172.5 180.5 L1172 180.5 L1171.5 180.5 L1171 180.5 L1170.5 180.5 L1170 180.5 L1169.5 180.5 L1169 180.5 L1168.5 180.5 L1168 180.5 L1167.5 180.5 L1167 180.5 L1166.5 180.5 L1166 180.5 L1165.5 180.5 L1165 180.5 L1164.5 180.5 L1164 180.5 L1163.5 180.5 L1163 180.5 L1162.5 180.5 L1162 180.5 L1161.5 180.5 L1161 180.5 L1160.5 180.5 L1160 180.5 L1159.5 180.5 L1159 180.5 L1158.5 180.5 L1158 180.5 L1157.5 180.5 L1157 180.5 L1156.5 180.5 L1156 180.5 L1155.5 180.5 L1155 180.5 L1154.5 180.5 L1154 180.5 L1153.5 180.5 L1153 180.5 L1152.5 180.5 L1152 180.5 L1151.5 180.5 L1151 180.5 L1150.5 180.5 L1150 180.5 L1149.5 180.5 L1149 180.5 L1148.5 180.5 L1148 180.5 L1147.5 180.5 L1147 180.5 L1146.5 180.5 L1146 180.5 L1145.5 180.5 L1145 180.5 L1144.5 180.5 L1144 180.5 L1143.5 180.5 L1143 180.5 L1142.5 180.5 L1142 180.5 L1141.5 180.5 L1141 180.5 L1140.5 180.5 L1140 180.5 L1139.5 180.5 L1139 180.5 L1138.5 180.5 L1138 180.5 L1137.5 180.5 L1137 180.5 L1136.5 180.5 L1136 180.5 L1135.5 180.5 L1135 180.5 L1134.5 180.5 L1134 180.5 L1133.5 180.5 L1133 180.5 L1132.5 180.5 L1132 180.5 L1131.5 180.5 L1131 180.5 L1130.5 180.5 L1130 180.5 L1129.5 180.5 L1129 180.5 L1128.5 180.5 L1128 180.5 L1127.5 180.5 L1127 180.5 L1126.5 180.5 L1126 180.5 L1125.5 180.5 L1125 180.5 L1124.5 180.5 L1124 180.5 L1123.5 180.5 L1123 180.5 L1122.5 180.6 L1122 180.8 L1121.5 181 L1121 181.2 L1120.5 181.4 L1120 181.6 L1119.5 181.8 L1119 182.1 L1118.5 182.3 L1118 182.5 L1117.5 182.7 L1117 182.9 L1116.5 183.1 L1116 183.3 L1115.5 183.4 L1115 183.4 L1114.5 183.4 L1114 183.4 L1113.5 183.4 L1113 183.4 L1112.5 183.4 L1112 183.4 L1111.5 183.4 L1111 183.4 L1110.5 183.4 L1110 183.4 L1109.5 183.4 L1109 183.4 L1108.5 183.4 L1108 183.4 L1107.5 183.4 L1107 183.4 L1106.5 183.4 L1106 183.4 L1105.5 183.4 L1105 183.4 L1104.5 183.4 L1104 183.4 L1103.5 183.4 L1103 183.4 L1102.5 183.4 L1102 183.4 L1101.5 183.4 L1101 183.5 L1100.5 183.5 L1100 183.5 L1099.5 183.5 L1099 183.5 L1098.5 183.5 L1098 183.5 L1097.5 183.5 L1097 183.5 L1096.5 183.5 L1096 183.5 L1095.5 183.5 L1095 183.5 L1094.5 183.5 L1094 183.5 L1093.5 183.5 L1093 183.5 L1092.5 183.5 L1092 183.5 L1091.5 183.5 L1091 183.5 L1090.5 183.5 L1090 183.5 L1089.5 183.5 L1089 183.5 L1088.5 183.5 L1088 183.5 L1087.5 183.5 L1087 183.5 L1086.5 183.5 L1086 183.8 L1085.5 184.2 L1085 184.6 L1084.5 185 L1084 185.3 L1083.5 185.7 L1083 186.1 L1082.5 186.5 L1082 186.9 L1081.5 187.3 L1081 187.7 L1080.5 188 L1080 188.4 L1079.5 188.8 L1079 189.2 L1078.5 189.8 L1078 190.4 L1077.5 191.1 L1077 191.7 L1076.5 192.3 L1076 192.9 L1075.5 193.6 L1075 194.2 L1074.5 194.8 L1074 195.4 L1073.5 196.1 L1073 196.7 L1072.5 197.3 L1072 197.9 L1071.5 198.6 L1071 199.2 L1070.5 199.8 L1070 200.4 L1069.5 201.1 L1069 201.7 L1068.5 202.3 L1068 203.6 L1067.5 205 L1067 206.3 L1066.5 207.7 L1066 209 L1065.5 210.3 L1065 211.7 L1064.5 213 L1064 214.4 L1063.5 214.8 L1063 214.5 L1062.5 214.3 L1062 214.1 L1061.5 213.9 L1061 213.7 L1060.5 213.4 L1060 213.2 L1059.5 213 L1059 212.8 L1058.5 212.6 L1058 212.3 L1057.5 212.1 L1057 211.9 L1056.5 211.8 L1056 211.8 L1055.5 211.8 L1055 211.8 L1054.5 211.8 L1054 211.8 L1053.5 211.8 L1053 211.8 L1052.5 211.8 L1052 211.8 L1051.5 211.8 L1051 211.8 L1050.5 211.8 L1050 211.8 L1049.5 211.8 L1049 211.8 L1048.5 211.8 L1048 211.8 L1047.5 211.8 L1047 211.8 L1046.5 211.8 L1046 211.8 L1045.5 211.8 L1045 211.8 L1044.5 211.8 L1044 211.8 L1043.5 211.8 L1043 211.8 L1042.5 211.8 L1042 211.8 L1041.5 211.8 L1041 211.8 L1040.5 211.8 L1040 211.8 L1039.5 211.8 L1039 211.8 L1038.5 211.8 L1038 211.8 L1037.5 211.8 L1037 211.8 L1036.5 211.8 L1036 211.8 L1035.5 211.8 L1035 211.8 L1034.5 211.8 L1034 211.8 L1033.5 211.8 L1033 211.8 L1032.5 211.8 L1032 211.8 L1031.5 211.8 L1031 211.8 L1030.5 211.8 L1030 211.8 L1029.5 211.8 L1029 211.8 L1028.5 211.8 L1028 211.8 L1027.5 211.8 L1027 211.8 L1026.5 211.8 L1026 211.8 L1025.5 211.8 L1025 211.8 L1024.5 211.8 L1024 211.8 L1023.5 211.8 L1023 211.8 L1022.5 211.8 L1022 211.8 L1021.5 211.8 L1021 211.8 L1020.5 211.8 L1020 211.8 L1019.5 211.8 L1019 211.8 L1018.5 211.8 L1018 211.8 L1017.5 211.8 L1017 211.8 L1016.5 211.8 L1016 211.8 L1015.5 211.8 L1015 211.8 L1014.5 211.8 L1014 211.8 L1013.5 211.8 L1013 211.8 L1012.5 211.8 L1012 211.8 L1011.5 211.8 L1011 211.8 L1010.5 211.8 L1010 211.8 L1009.5 211.8 L1009 211.8 L1008.5 211.8 L1008 211.8 L1007.5 211.8 L1007 211.8 L1006.5 211.8 L1006 211.8 L1005.5 211.8 L1005 211.8 L1004.5 211.8 L1004 211.8 L1003.5 211.8 L1003 211.8 L1002.5 211.8 L1002 211.8 L1001.5 211.8 L1001 211.8 L1000.5 211.8 L1000 211.8 L999.5 211.8 L999 211.8 L998.5 211.8Z" fill="#e9f5ea"/><path d="M10.5 379 L17.9 377.4 L25.5 377.4 L32.5 371.8 L59.9 371.8 L65.2 368.8 L70.2 364.1 L76.2 361.8 L100 361.4 L239.3 361.4 L246.6 369.4 L342.1 369.4 L349.5 362.2 L364 361.4 L378.9 354.3 L407.8 354.3 L415.7 335 L419.9 330 L429.4 320.9 L467.5 320.9 L475 310.9 L487.8 309 L556.2 309 L570.8 302.6 L592.7 302.6 L600 297.8 L607.5 294.2 L614.9 293.7 L622.3 279.9 L629.6 262 L637 254.4 L651.6 254.4 L659 253 L673.7 252 L681.1 247.7 L696.9 244.9 L711.2 241.8 L762.2 241.8 L769.6 238.7 L777 238.2 L784.4 230.4 L791.8 224.9 L841.6 224.9 L850.6 214.2 L872.8 214.2 L880.2 213 L894.7 211.8 L1056.8 211.8 L1063.8 214.9 L1068.5 202.3 L1079 189.2 L1086.4 183.5 L1115.7 183.4 L1122.8 180.5 L1210.3 180.5 L1217.4 172.2 L1224.1 164.6" fill="none" stroke="#f08080" stroke-width="1.2" stroke-linejoin="round"/><path d="M10.5 361 L13.2 360.5 L18.5 359.4 L25.5 359.4 L31.1 354.2 L35.8 352.7 L40.1 351.9 L47.4 356.2 L69.5 356.2 L76.2 355.5 L91.4 350.6 L106.4 356.1 L120.5 352.2 L128.4 351.8 L143.4 355.3 L158.3 357.5 L172.6 360.4 L180 360.8 L195.9 359.4 L201.9 356.9 L216.8 356.5 L225.8 358.8 L239.3 360.4 L246.6 382.1 L261.2 382.3 L268.5 384.7 L275.5 386.1 L282.4 386.7 L290.4 389.1 L304.9 389.3 L312.9 384.1 L319.2 382.3 L327.2 379.3 L334.6 367.8 L342.1 366.8 L349.5 354.9 L357 353.9 L364 353.9 L378.9 344.5 L393.8 341.9 L407.8 341.5 L413.4 330 L421 316.9 L435.4 307.8 L452 303.8 L459.2 303.8 L467.5 296.6 L475 284.2 L504.5 280.6 L526.4 278.3 L533 272 L553.8 271.6 L563.4 268 L577.7 261.3 L585.3 261.3 L592.7 256.8 L600.1 248.9 L607.5 244.6 L614.9 244.6 L622.3 233.4 L629.6 221.5 L637 218.7 L651.6 216.7 L659 209.6 L670.6 208.4 L679 205.3 L689.7 204.4 L695.9 207.2 L703.3 211.5 L720 212 L740 211.8 L747.4 213.7 L754.8 217.3 L762.2 220.1 L769.6 217.3 L777 216.8 L784.4 217.7 L796.3 217.3 L806.5 213.7 L813.7 212 L835.9 212 L843.2 210.6 L850.6 210.1 L865.4 211.3 L872.8 214.2 L880.2 217.3 L886.9 220.1 L894.7 216.8 L909.5 216.8 L916.9 221.8 L924.3 220.7 L931.7 219.7 L939 219.7 L953.9 222.6 L961.3 223.3 L968.4 222.6 L975.8 220.2 L983.2 215.9 L990.6 212.6 L1005.4 211.1 L1012.7 205.9 L1020.1 204.7 L1027.5 204.7 L1034.9 200.6 L1056.8 200.6 L1062.6 198.7 L1067.3 189.2 L1071.6 179.7 L1079 173 L1086.4 171.9 L1101 171.4 L1108.5 169 L1115.8 167.8 L1123.1 167.1 L1130.6 167.1 L1137.9 169.4 L1152.2 169.8 L1166.5 169 L1174.5 171 L1180.8 171 L1188.8 169.4 L1196.7 168.2 L1203.9 168.2 L1210.3 166.7 L1217.4 153.1 L1224.1 144.7" fill="none" stroke="#66bb6a" stroke-width="1.2" stroke-linejoin="round"/></g><path d="M10.7 366.1 L11.8 366 L13 366 L14.3 365.9 L15.7 365.8 L17.2 365.7 L18.9 365.6 L20.6 365.4 L22.4 365.3 L24.3 365.2 L26.2 365.1 L28.3 364.9 L30.4 364.8 L32.5 364.6 L34.7 364.5 L36.9 364.3 L39.2 364.2 L41.5 364 L43.8 363.9 L46.2 363.7 L48.5 363.6 L50.9 363.4 L53.2 363.3 L55.6 363.2 L58 363 L60.3 362.9 L62.6 362.8 L64.9 362.7 L67.1 362.6 L69.3 362.5 L71.4 362.4 L73.5 362.3 L75.5 362.3 L77.5 362.2 L79.6 362.2 L81.8 362.1 L83.9 362.1 L86.1 362.1 L88.2 362.1 L90.4 362.1 L92.5 362.1 L94.7 362.1 L96.9 362.2 L99 362.2 L101.2 362.3 L103.3 362.3 L105.4 362.4 L107.5 362.4 L109.6 362.5 L111.7 362.5 L113.8 362.6 L115.8 362.7 L117.8 362.7 L119.8 362.8 L121.7 362.8 L123.7 362.9 L125.6 362.9 L127.4 362.9 L129.2 363 L131 363 L132.8 363 L134.4 363 L136.1 363 L137.7 363 L140.4 363 L143 362.9 L145.4 362.8 L147.8 362.7 L150 362.6 L152.1 362.5 L154.1 362.4 L156.1 362.2 L158 362.1 L159.8 361.9 L161.6 361.8 L163.4 361.7 L165.2 361.5 L166.9 361.4 L168.6 361.2 L170.3 361.1 L172.1 361 L174.5 360.8 L176.8 360.7 L179 360.5 L181.2 360.4 L183.2 360.2 L185.3 360.1 L187.3 359.9 L189.3 359.8 L191.3 359.6 L193.4 359.5 L195.5 359.3 L197.7 359.2 L199.7 359.1 L201.6 359 L203.7 359 L205.7 359 L207.8 359 L209.9 359 L212 358.9 L214.1 358.9 L216.1 358.8 L218.2 358.7 L220.3 358.6 L222.3 358.4 L224.3 358.1 L226.3 357.8 L228.4 357.4 L230.4 356.8 L232.4 356.2 L234.4 355.6 L236.3 354.9 L238.3 354.1 L240.2 353.4 L242.2 352.6 L244.2 351.8 L246.2 351.1 L248.2 350.3 L250.3 349.6 L252.5 349 L254.4 348.5 L256.4 348 L258.4 347.6 L260.4 347.1 L262.4 346.7 L264.4 346.3 L266.5 345.9 L268.6 345.5 L270.7 345 L272.8 344.6 L274.9 344.1 L277.1 343.6 L279.2 343 L281.4 342.4 L283.5 341.8 L285.5 341.1 L287.6 340.4 L289.7 339.7 L291.8 338.8 L293.9 338 L296.1 337.1 L298.2 336.3 L300.4 335.4 L302.5 334.5 L304.7 333.6 L306.8 332.7 L308.9 331.8 L310.9 331 L313 330.2 L315 329.4 L316.9 328.7 L319.1 327.9 L321.1 327.2 L323.1 326.5 L325.1 325.9 L327 325.2 L328.9 324.6 L330.8 324 L332.7 323.4 L334.6 322.8 L336.6 322.2 L338.6 321.6 L340.6 320.9 L342.8 320.2 L345 319.5 L346.9 318.9 L348.8 318.2 L350.7 317.6 L352.7 316.9 L354.7 316.2 L356.7 315.5 L358.7 314.8 L360.8 314.1 L362.9 313.4 L365 312.7 L367.1 311.9 L369.3 311.2 L371.5 310.4 L373.7 309.6 L375.9 308.9 L378.2 308.1 L380.5 307.3 L382.4 306.7 L384.3 306 L386.3 305.4 L388.3 304.7 L390.4 304.1 L392.4 303.4 L394.5 302.7 L396.6 302.1 L398.7 301.4 L400.9 300.7 L403 300 L405.1 299.3 L407.2 298.6 L409.4 297.9 L411.4 297.2 L413.5 296.4 L415.6 295.7 L417.6 294.9 L419.6 294.2 L421.5 293.4 L423.4 292.6 L425.7 291.6 L428 290.6 L430.2 289.5 L432.5 288.4 L434.7 287.3 L436.9 286.2 L439 285.1 L441.1 283.9 L443.2 282.8 L445.3 281.6 L447.4 280.5 L449.4 279.4 L451.4 278.2 L453.4 277.1 L455.4 276.1 L457.3 275 L459.2 274 L461.5 272.8 L463.7 271.6 L465.9 270.4 L468 269.2 L470.1 268 L472.2 266.9 L474.2 265.8 L476.3 264.7 L478.2 263.6 L480.2 262.5 L482.1 261.5 L484 260.4 L485.9 259.5 L487.8 258.5 L490.2 257.3 L492.5 256.2 L494.8 255 L497 254 L499.2 252.9 L501.4 251.9 L503.5 251 L505.6 250.1 L507.6 249.2 L509.6 248.4 L511.6 247.7 L513.9 246.9 L516.1 246.3 L518.2 245.7 L520.2 245.3 L522.2 244.9 L524.2 244.5 L526.3 244.1 L528.4 243.7 L530.7 243.3 L532.6 242.9 L534.6 242.6 L536.7 242.3 L538.8 242 L540.9 241.7 L543 241.4 L545.2 241 L547.3 240.7 L549.5 240.3 L551.7 239.9 L553.8 239.4 L555.9 238.9 L558.1 238.3 L560.3 237.6 L562.4 236.9 L564.6 236.2 L566.8 235.5 L569 234.8 L571.2 234.1 L573.3 233.4 L575.5 232.8 L577.7 232.2 L579.9 231.7 L582 231.2 L584.2 230.7 L586.4 230.3 L588.5 229.9 L590.7 229.5 L592.8 229.1 L595 228.7 L597.2 228.3 L599.3 227.9 L601.5 227.5 L603.7 227.1 L605.8 226.7 L608 226.3 L610.2 225.9 L612.4 225.5 L614.5 225.1 L616.7 224.7 L618.9 224.3 L621.1 223.9 L623.2 223.6 L625.4 223.2 L627.6 222.8 L629.7 222.5 L631.9 222.1 L634.1 221.8 L636.2 221.5 L638.4 221.1 L640.5 220.8 L642.7 220.5 L644.9 220.3 L647 220 L649.2 219.8 L651.4 219.6 L653.5 219.5 L655.7 219.4 L657.9 219.4 L660 219.3 L662.2 219.3 L664.3 219.2 L666.5 219.2 L668.7 219.1 L670.8 218.9 L673 218.7 L675.2 218.4 L677.5 218.1 L679.8 217.7 L682.1 217.3 L684.4 216.8 L686.7 216.4 L688.9 215.9 L691.1 215.5 L693.1 215.1 L695.1 214.7 L696.9 214.4 L699.3 214 L701.2 213.6 L702.7 213.2 L704.3 212.9 L706.1 212.7 L708.3 212.5 L711.2 212.3 L712.7 212.3 L714.4 212.2 L716.1 212.2 L718 212.2 L719.9 212.2 L721.9 212.3 L724 212.3 L726.2 212.3 L728.3 212.4 L730.5 212.4 L732.8 212.5 L735 212.5 L737.2 212.5 L739.4 212.5 L741.6 212.5 L743.8 212.5 L745.8 212.5 L747.9 212.4 L749.9 212.4 L752 212.3 L754.1 212.2 L756.2 212.2 L758.3 212.1 L760.4 212 L762.6 211.9 L764.7 211.9 L766.8 211.8 L769 211.7 L771.1 211.6 L773.2 211.5 L775.4 211.4 L777.5 211.4 L779.6 211.3 L781.7 211.2 L783.8 211.2 L785.9 211.1 L788 211 L790.1 210.9 L792.2 210.8 L794.3 210.7 L796.5 210.7 L798.6 210.6 L800.7 210.5 L802.8 210.4 L804.9 210.4 L807 210.3 L809.1 210.2 L811.2 210.2 L813.3 210.1 L815.4 210.1 L817.5 210.1 L819.7 210 L821.9 210 L824.1 210 L826.3 210 L828.5 210 L830.7 210 L832.9 210 L835.1 210 L837.2 210 L839.4 210 L841.5 210 L843.5 210 L845.5 210.1 L847.4 210.1 L849.3 210.1 L851.1 210.1 L853.8 210.1 L856.3 210.2 L858.8 210.3 L861.2 210.4 L863.4 210.5 L865.6 210.6 L867.7 210.7 L869.7 210.7 L871.5 210.7 L873.3 210.7 L875 210.6 L878.1 210.2 L880.4 209.6 L882.4 208.8 L884.4 208.1 L886.9 207.3 L888.8 206.8 L890.7 206.3 L892.8 205.8 L895 205.3 L897.1 204.8 L899.3 204.3 L901.5 203.9 L903.6 203.4 L905.7 203 L907.8 202.6 L909.9 202.2 L912 201.8 L914.1 201.4 L916.1 201 L918.1 200.7 L920 200.3 L922.3 199.8 L924.4 199.3 L926.4 198.9 L928.5 198.4 L930.9 197.9 L933.8 197.5 L935.6 197.3 L937.5 197 L939.6 196.8 L941.8 196.6 L944 196.4 L946.3 196.1 L948.6 195.9 L950.9 195.7 L953.2 195.5 L955.5 195.3 L957.7 195.1 L959.9 194.9 L962 194.7 L964.2 194.6 L966.4 194.4 L968.5 194.2 L970.7 194.1 L972.8 193.9 L975 193.7 L977.2 193.6 L979.3 193.4 L981.5 193.2 L983.7 193 L985.8 192.8 L988 192.7 L990.2 192.5 L992.4 192.3 L994.5 192.1 L996.7 191.9 L998.9 191.7 L1001.1 191.5 L1003.2 191.2 L1005.4 190.9 L1007.6 190.6 L1009.7 190.2 L1011.9 189.8 L1014.1 189.4 L1016.2 189 L1018.4 188.5 L1020.5 188.1 L1022.7 187.6 L1024.9 187.1 L1027 186.6 L1029.2 186.1 L1031.4 185.6 L1033.5 185 L1035.7 184.5 L1037.9 183.9 L1040 183.3 L1042.2 182.8 L1044.3 182.2 L1046.5 181.5 L1048.7 180.9 L1050.8 180.3 L1053 179.7 L1055.2 179.1 L1057.4 178.4 L1059.7 177.7 L1062 177 L1064.3 176.3 L1066.5 175.6 L1068.7 174.9 L1070.9 174.3 L1073 173.6 L1075 173 L1076.9 172.5 L1079.3 171.9 L1081.6 171.3 L1083.7 170.8 L1085.7 170.3 L1087.7 169.9 L1089.6 169.5 L1091.6 169 L1093.6 168.5 L1095.6 167.9 L1097.6 167.3 L1099.6 166.7 L1101.6 166.1 L1103.6 165.5 L1105.7 164.8 L1107.8 164.3 L1110 163.7 L1111.9 163.3 L1114.1 162.8 L1116.4 162.4 L1118.7 162 L1121 161.5 L1123.3 161.2 L1125.4 160.8 L1127.2 160.5 L1128.8 160.2 L1130 160" fill="none" stroke="#ff9800" stroke-width="1.3" stroke-linejoin="round"/><g stroke="#1a1d26" stroke-width="1.35" stroke-dasharray="0.01 2.98" stroke-linecap="round" fill="none"><line x1="7" y1="205.4" x2="1224.5" y2="102.4"/><line x1="7" y1="447" x2="1224.5" y2="255.2"/></g><g shape-rendering="crispEdges"><rect x="10" y="355.3" width="1" height="18.4" fill="#26a69a"/><rect x="8" y="355.3" width="5" height="12.4" fill="#26a69a"/><rect x="18" y="341" width="1" height="21.7" fill="#ef5350"/><rect x="16" y="355" width="5" height="1.7" fill="#ef5350"/><rect x="25" y="347.9" width="1" height="12.9" fill="#26a69a"/><rect x="23" y="355" width="5" height="1.7" fill="#26a69a"/><rect x="32" y="348.9" width="1" height="9.8" fill="#ef5350"/><rect x="30" y="355" width="5" height="1" fill="#ef5350"/><rect x="40" y="351" width="1" height="16.8" fill="#ef5350"/><rect x="38" y="356.1" width="5" height="5.7" fill="#ef5350"/><rect x="47" y="359" width="1" height="17.8" fill="#ef5350"/><rect x="45" y="360.8" width="5" height="12.9" fill="#ef5350"/><rect x="54" y="365.1" width="1" height="15.7" fill="#26a69a"/><rect x="52" y="365.1" width="5" height="8.6" fill="#26a69a"/><rect x="62" y="363.9" width="1" height="74.5" fill="#ef5350"/><rect x="60" y="366.1" width="5" height="28.8" fill="#ef5350"/><rect x="69" y="382.8" width="1" height="33.1" fill="#26a69a"/><rect x="67" y="384" width="5" height="10.9" fill="#26a69a"/><rect x="77" y="379" width="1" height="14.7" fill="#ef5350"/><rect x="75" y="384" width="5" height="1.4" fill="#ef5350"/><rect x="84" y="380.8" width="1" height="21" fill="#ef5350"/><rect x="82" y="385" width="5" height="10.7" fill="#ef5350"/><rect x="91" y="359.2" width="1" height="46.5" fill="#26a69a"/><rect x="89" y="375" width="5" height="20.7" fill="#26a69a"/><rect x="99" y="364.2" width="1" height="14.7" fill="#26a69a"/><rect x="97" y="368.2" width="5" height="7.7" fill="#26a69a"/><rect x="106" y="361.7" width="1" height="36.1" fill="#ef5350"/><rect x="104" y="368.2" width="5" height="13.4" fill="#ef5350"/><rect x="113" y="378" width="1" height="15.7" fill="#ef5350"/><rect x="111" y="381.1" width="5" height="9.8" fill="#ef5350"/><rect x="121" y="381.1" width="1" height="14.6" fill="#ef5350"/><rect x="119" y="389.7" width="5" height="1.2" fill="#ef5350"/><rect x="128" y="369.9" width="1" height="23.8" fill="#26a69a"/><rect x="126" y="379" width="5" height="11.9" fill="#26a69a"/><rect x="135" y="371.1" width="1" height="15.7" fill="#26a69a"/><rect x="133" y="374.2" width="5" height="5.5" fill="#26a69a"/><rect x="143" y="347.9" width="1" height="32.9" fill="#26a69a"/><rect x="141" y="352.2" width="5" height="22.5" fill="#26a69a"/><rect x="150" y="327.2" width="1" height="45.6" fill="#ef5350"/><rect x="148" y="352.2" width="5" height="2.7" fill="#ef5350"/><rect x="158" y="336" width="1" height="25.8" fill="#26a69a"/><rect x="156" y="341.2" width="5" height="13.7" fill="#26a69a"/><rect x="165" y="308" width="1" height="39.1" fill="#26a69a"/><rect x="163" y="308.9" width="5" height="32.9" fill="#26a69a"/><rect x="172" y="307.3" width="1" height="27.4" fill="#ef5350"/><rect x="170" y="308.9" width="5" height="14.6" fill="#ef5350"/><rect x="180" y="320.9" width="1" height="28.1" fill="#ef5350"/><rect x="178" y="322.8" width="5" height="10" fill="#ef5350"/><rect x="187" y="300.8" width="1" height="35.1" fill="#26a69a"/><rect x="185" y="304.9" width="5" height="27.9" fill="#26a69a"/><rect x="194" y="296.1" width="1" height="35.5" fill="#ef5350"/><rect x="192" y="304.9" width="5" height="16.7" fill="#ef5350"/><rect x="202" y="320.4" width="1" height="50.5" fill="#ef5350"/><rect x="200" y="321.1" width="5" height="19.5" fill="#ef5350"/><rect x="209" y="329.2" width="1" height="25.7" fill="#ef5350"/><rect x="207" y="340.2" width="5" height="9.5" fill="#ef5350"/><rect x="216" y="319.9" width="1" height="39.3" fill="#26a69a"/><rect x="214" y="324" width="5" height="25.7" fill="#26a69a"/><rect x="224" y="300.8" width="1" height="30.8" fill="#26a69a"/><rect x="222" y="300.8" width="5" height="23.9" fill="#26a69a"/><rect x="231" y="267.9" width="1" height="38.9" fill="#26a69a"/><rect x="229" y="273.9" width="5" height="27.9" fill="#26a69a"/><rect x="239" y="254.8" width="1" height="31" fill="#ef5350"/><rect x="237" y="273.9" width="5" height="7.1" fill="#ef5350"/><rect x="246" y="248.9" width="1" height="38.8" fill="#26a69a"/><rect x="244" y="252.9" width="5" height="28.1" fill="#26a69a"/><rect x="253" y="248.9" width="1" height="23.1" fill="#ef5350"/><rect x="251" y="252.9" width="5" height="11" fill="#ef5350"/><rect x="261" y="254.8" width="1" height="23.9" fill="#ef5350"/><rect x="259" y="263.2" width="5" height="13.6" fill="#ef5350"/><rect x="268" y="262.7" width="1" height="28.4" fill="#26a69a"/><rect x="266" y="263.6" width="5" height="13.2" fill="#26a69a"/><rect x="275" y="262.7" width="1" height="39.3" fill="#ef5350"/><rect x="273" y="263.6" width="5" height="34.1" fill="#ef5350"/><rect x="283" y="258.9" width="1" height="52.7" fill="#26a69a"/><rect x="281" y="267.2" width="5" height="30.5" fill="#26a69a"/><rect x="290" y="234.6" width="1" height="36.9" fill="#26a69a"/><rect x="288" y="240" width="5" height="27.9" fill="#26a69a"/><rect x="297" y="238.6" width="1" height="16.2" fill="#26a69a"/><rect x="295" y="239.8" width="5" height="1" fill="#26a69a"/><rect x="305" y="232.9" width="1" height="26" fill="#ef5350"/><rect x="303" y="240" width="5" height="12.9" fill="#ef5350"/><rect x="312" y="247" width="1" height="19.7" fill="#ef5350"/><rect x="310" y="252" width="5" height="2.8" fill="#ef5350"/><rect x="320" y="252.9" width="1" height="27" fill="#ef5350"/><rect x="318" y="254.1" width="5" height="18.6" fill="#ef5350"/><rect x="327" y="242.9" width="1" height="34.1" fill="#26a69a"/><rect x="325" y="254.1" width="5" height="18.6" fill="#26a69a"/><rect x="334" y="243.6" width="1" height="20.3" fill="#ef5350"/><rect x="332" y="254.1" width="5" height="3.6" fill="#ef5350"/><rect x="342" y="247.2" width="1" height="14.6" fill="#26a69a"/><rect x="340" y="248.9" width="5" height="8.6" fill="#26a69a"/><rect x="349" y="241" width="1" height="23" fill="#ef5350"/><rect x="347" y="248.9" width="5" height="10.3" fill="#ef5350"/><rect x="356" y="253.2" width="1" height="13.6" fill="#26a69a"/><rect x="354" y="256.1" width="5" height="2.4" fill="#26a69a"/><rect x="364" y="244.9" width="1" height="12.8" fill="#26a69a"/><rect x="362" y="248.9" width="5" height="7.7" fill="#26a69a"/><rect x="371" y="234.6" width="1" height="16.2" fill="#26a69a"/><rect x="369" y="238.2" width="5" height="11.4" fill="#26a69a"/><rect x="378" y="230.3" width="1" height="26.3" fill="#ef5350"/><rect x="376" y="238.2" width="5" height="5.5" fill="#ef5350"/><rect x="386" y="224.4" width="1" height="19.3" fill="#26a69a"/><rect x="384" y="229.1" width="5" height="14.6" fill="#26a69a"/><rect x="393" y="226.3" width="1" height="19.5" fill="#ef5350"/><rect x="391" y="229.1" width="5" height="9.6" fill="#ef5350"/><rect x="401" y="236.3" width="1" height="20.3" fill="#ef5350"/><rect x="399" y="237.7" width="5" height="4.1" fill="#ef5350"/><rect x="408" y="232.2" width="1" height="15.5" fill="#26a69a"/><rect x="406" y="236.3" width="5" height="5.5" fill="#26a69a"/><rect x="415" y="217.2" width="1" height="22.7" fill="#26a69a"/><rect x="413" y="220.3" width="5" height="16" fill="#26a69a"/><rect x="423" y="213.2" width="1" height="24.5" fill="#ef5350"/><rect x="421" y="220.3" width="5" height="6.5" fill="#ef5350"/><rect x="430" y="214.4" width="1" height="15.9" fill="#26a69a"/><rect x="428" y="218.4" width="5" height="8.4" fill="#26a69a"/><rect x="437" y="194.8" width="1" height="32" fill="#26a69a"/><rect x="435" y="199.3" width="5" height="19.4" fill="#26a69a"/><rect x="445" y="176.9" width="1" height="33.9" fill="#26a69a"/><rect x="443" y="180.3" width="5" height="20.2" fill="#26a69a"/><rect x="452" y="171" width="1" height="20" fill="#ef5350"/><rect x="450" y="180.3" width="5" height="5.5" fill="#ef5350"/><rect x="459" y="176.2" width="1" height="45.8" fill="#ef5350"/><rect x="457" y="185.3" width="5" height="4.5" fill="#ef5350"/><rect x="467" y="184.1" width="1" height="16.4" fill="#ef5350"/><rect x="465" y="189.3" width="5" height="4.8" fill="#ef5350"/><rect x="474" y="188.1" width="1" height="17.4" fill="#26a69a"/><rect x="472" y="191.2" width="5" height="2.4" fill="#26a69a"/><rect x="482" y="183.4" width="1" height="11.2" fill="#26a69a"/><rect x="480" y="190" width="5" height="2.2" fill="#26a69a"/><rect x="489" y="173.1" width="1" height="23.4" fill="#26a69a"/><rect x="487" y="177.4" width="5" height="12.4" fill="#26a69a"/><rect x="496" y="164.8" width="1" height="25.7" fill="#ef5350"/><rect x="494" y="177.4" width="5" height="4.3" fill="#ef5350"/><rect x="504" y="173.8" width="1" height="12" fill="#26a69a"/><rect x="502" y="180.3" width="5" height="1.4" fill="#26a69a"/><rect x="511" y="180.3" width="1" height="63.1" fill="#ef5350"/><rect x="509" y="180.3" width="5" height="15.5" fill="#ef5350"/><rect x="518" y="194.1" width="1" height="78.7" fill="#ef5350"/><rect x="516" y="196" width="5" height="36.7" fill="#ef5350"/><rect x="526" y="209.1" width="1" height="34.3" fill="#26a69a"/><rect x="524" y="217.5" width="5" height="15.2" fill="#26a69a"/><rect x="533" y="213.2" width="1" height="31.4" fill="#ef5350"/><rect x="531" y="217.3" width="5" height="24.5" fill="#ef5350"/><rect x="540" y="223.9" width="1" height="25.7" fill="#26a69a"/><rect x="538" y="238.2" width="5" height="3.6" fill="#26a69a"/><rect x="548" y="221" width="1" height="19.1" fill="#26a69a"/><rect x="546" y="230.3" width="5" height="8.4" fill="#26a69a"/><rect x="555" y="226.3" width="1" height="30.3" fill="#ef5350"/><rect x="553" y="230.3" width="5" height="11" fill="#ef5350"/><rect x="563" y="219.1" width="1" height="23.9" fill="#26a69a"/><rect x="561" y="219.1" width="5" height="22.7" fill="#26a69a"/><rect x="570" y="200.8" width="1" height="23.1" fill="#26a69a"/><rect x="568" y="213.9" width="5" height="5.7" fill="#26a69a"/><rect x="577" y="196" width="1" height="20.7" fill="#26a69a"/><rect x="575" y="206" width="5" height="8.8" fill="#26a69a"/><rect x="585" y="200.8" width="1" height="23.8" fill="#ef5350"/><rect x="583" y="205.3" width="5" height="15.5" fill="#ef5350"/><rect x="592" y="216.3" width="1" height="17.6" fill="#26a69a"/><rect x="590" y="219.1" width="5" height="1.7" fill="#26a69a"/><rect x="599" y="214.4" width="1" height="15" fill="#26a69a"/><rect x="597" y="216.3" width="5" height="3.3" fill="#26a69a"/><rect x="607" y="210.1" width="1" height="12.6" fill="#26a69a"/><rect x="605" y="213.9" width="5" height="2.8" fill="#26a69a"/><rect x="614" y="193.4" width="1" height="22.9" fill="#26a69a"/><rect x="612" y="193.4" width="5" height="21" fill="#26a69a"/><rect x="621" y="191.7" width="1" height="10.7" fill="#ef5350"/><rect x="619" y="192.9" width="5" height="2.4" fill="#ef5350"/><rect x="629" y="193.6" width="1" height="16" fill="#ef5350"/><rect x="627" y="194.8" width="5" height="10.7" fill="#ef5350"/><rect x="636" y="202" width="1" height="12.8" fill="#26a69a"/><rect x="634" y="204.4" width="5" height="1.6" fill="#26a69a"/><rect x="643" y="202" width="1" height="18.3" fill="#ef5350"/><rect x="641" y="204.4" width="5" height="11.6" fill="#ef5350"/><rect x="651" y="200.8" width="1" height="25" fill="#26a69a"/><rect x="649" y="206.5" width="5" height="9.5" fill="#26a69a"/><rect x="658" y="203.6" width="1" height="11.2" fill="#ef5350"/><rect x="656" y="206" width="5" height="8.4" fill="#ef5350"/><rect x="666" y="208.4" width="1" height="18.4" fill="#ef5350"/><rect x="664" y="213.9" width="5" height="7.6" fill="#ef5350"/><rect x="673" y="216.3" width="1" height="13.6" fill="#26a69a"/><rect x="671" y="218.4" width="5" height="3.1" fill="#26a69a"/><rect x="680" y="197" width="1" height="25.7" fill="#26a69a"/><rect x="678" y="198.4" width="5" height="20.7" fill="#26a69a"/><rect x="688" y="196" width="1" height="14.8" fill="#ef5350"/><rect x="686" y="198.4" width="5" height="10" fill="#ef5350"/><rect x="695" y="200.8" width="1" height="12.8" fill="#26a69a"/><rect x="693" y="206" width="5" height="2.4" fill="#26a69a"/><rect x="702" y="195.3" width="1" height="14.3" fill="#ef5350"/><rect x="700" y="206" width="5" height="1.7" fill="#ef5350"/><rect x="710" y="204.1" width="1" height="10.3" fill="#ef5350"/><rect x="708" y="207.2" width="5" height="2.4" fill="#ef5350"/><rect x="717" y="207.9" width="1" height="16" fill="#ef5350"/><rect x="715" y="209.1" width="5" height="14.3" fill="#ef5350"/><rect x="724" y="217.8" width="1" height="10.2" fill="#ef5350"/><rect x="722" y="223.3" width="5" height="3.5" fill="#ef5350"/><rect x="732" y="218.5" width="1" height="31.4" fill="#ef5350"/><rect x="730" y="226.1" width="5" height="15" fill="#ef5350"/><rect x="739" y="227.3" width="1" height="17.4" fill="#26a69a"/><rect x="737" y="234" width="5" height="7.1" fill="#26a69a"/><rect x="747" y="220.8" width="1" height="16.3" fill="#26a69a"/><rect x="745" y="222" width="5" height="13.6" fill="#26a69a"/><rect x="754" y="220.1" width="1" height="12.7" fill="#ef5350"/><rect x="752" y="222" width="5" height="4.1" fill="#ef5350"/><rect x="761" y="220.1" width="1" height="11.5" fill="#ef5350"/><rect x="759" y="225.1" width="5" height="3.4" fill="#ef5350"/><rect x="769" y="213.2" width="1" height="16.7" fill="#26a69a"/><rect x="767" y="217.3" width="5" height="10.7" fill="#26a69a"/><rect x="776" y="214.2" width="1" height="7.8" fill="#ef5350"/><rect x="774" y="217.3" width="5" height="2.8" fill="#ef5350"/><rect x="783" y="208.2" width="1" height="23.8" fill="#26a69a"/><rect x="781" y="208.2" width="5" height="11.9" fill="#26a69a"/><rect x="791" y="198.2" width="1" height="11.4" fill="#26a69a"/><rect x="789" y="204.2" width="5" height="4.7" fill="#26a69a"/><rect x="798" y="188.7" width="1" height="20.2" fill="#26a69a"/><rect x="796" y="190.3" width="5" height="15.1" fill="#26a69a"/><rect x="805" y="186.3" width="1" height="24.3" fill="#ef5350"/><rect x="803" y="190.3" width="5" height="19.8" fill="#ef5350"/><rect x="813" y="196.3" width="1" height="17.9" fill="#26a69a"/><rect x="811" y="200.1" width="5" height="10" fill="#26a69a"/><rect x="820" y="189.1" width="1" height="18.6" fill="#26a69a"/><rect x="818" y="190.3" width="5" height="10.3" fill="#26a69a"/><rect x="828" y="176.3" width="1" height="21.9" fill="#26a69a"/><rect x="826" y="177.5" width="5" height="13.5" fill="#26a69a"/><rect x="835" y="174.8" width="1" height="28.9" fill="#ef5350"/><rect x="833" y="177.5" width="5" height="21.9" fill="#ef5350"/><rect x="842" y="187" width="1" height="12.4" fill="#26a69a"/><rect x="840" y="188.2" width="5" height="11.2" fill="#26a69a"/><rect x="850" y="185.1" width="1" height="12.6" fill="#ef5350"/><rect x="848" y="188.2" width="5" height="7.6" fill="#ef5350"/><rect x="857" y="187" width="1" height="12.4" fill="#26a69a"/><rect x="855" y="193" width="5" height="2.8" fill="#26a69a"/><rect x="864" y="179.1" width="1" height="15.5" fill="#26a69a"/><rect x="862" y="182.2" width="5" height="11.2" fill="#26a69a"/><rect x="872" y="180.3" width="1" height="13.6" fill="#ef5350"/><rect x="870" y="182.2" width="5" height="4.6" fill="#ef5350"/><rect x="879" y="171.3" width="1" height="19.7" fill="#26a69a"/><rect x="877" y="173.2" width="5" height="13.6" fill="#26a69a"/><rect x="886" y="141" width="1" height="34.6" fill="#26a69a"/><rect x="884" y="144.1" width="5" height="29.8" fill="#26a69a"/><rect x="894" y="131" width="1" height="21.9" fill="#26a69a"/><rect x="892" y="138.1" width="5" height="6.5" fill="#26a69a"/><rect x="901" y="135" width="1" height="22.7" fill="#ef5350"/><rect x="899" y="138.1" width="5" height="3.6" fill="#ef5350"/><rect x="909" y="132.2" width="1" height="19.5" fill="#ef5350"/><rect x="907" y="141" width="5" height="10.7" fill="#ef5350"/><rect x="916" y="147.8" width="1" height="42.1" fill="#ef5350"/><rect x="914" y="151" width="5" height="3.6" fill="#ef5350"/><rect x="923" y="140.8" width="1" height="53.9" fill="#ef5350"/><rect x="921" y="153.9" width="5" height="17.9" fill="#ef5350"/><rect x="931" y="153" width="1" height="33.1" fill="#26a69a"/><rect x="929" y="155.1" width="5" height="16.7" fill="#26a69a"/><rect x="938" y="153" width="1" height="17.1" fill="#ef5350"/><rect x="936" y="155.1" width="5" height="14.5" fill="#ef5350"/><rect x="945" y="146.3" width="1" height="37.4" fill="#ef5350"/><rect x="943" y="169.2" width="5" height="6.4" fill="#ef5350"/><rect x="953" y="170.1" width="1" height="34.6" fill="#26a69a"/><rect x="951" y="174.2" width="5" height="1.4" fill="#26a69a"/><rect x="960" y="174.2" width="1" height="25" fill="#ef5350"/><rect x="958" y="174.2" width="5" height="23.8" fill="#ef5350"/><rect x="967" y="183.9" width="1" height="22.7" fill="#26a69a"/><rect x="965" y="194" width="5" height="4" fill="#26a69a"/><rect x="975" y="174.2" width="1" height="22.1" fill="#26a69a"/><rect x="973" y="174.9" width="5" height="19.8" fill="#26a69a"/><rect x="982" y="160.6" width="1" height="18.3" fill="#26a69a"/><rect x="980" y="166.1" width="5" height="10" fill="#26a69a"/><rect x="990" y="160.1" width="1" height="16.7" fill="#ef5350"/><rect x="988" y="166.1" width="5" height="3.5" fill="#ef5350"/><rect x="997" y="162.3" width="1" height="13.8" fill="#26a69a"/><rect x="995" y="167.7" width="5" height="1.9" fill="#26a69a"/><rect x="1004" y="156.3" width="1" height="15.7" fill="#26a69a"/><rect x="1002" y="159.4" width="5" height="9.5" fill="#26a69a"/><rect x="1012" y="143.9" width="1" height="19.1" fill="#26a69a"/><rect x="1010" y="143.9" width="5" height="16" fill="#26a69a"/><rect x="1019" y="143.9" width="1" height="13.1" fill="#ef5350"/><rect x="1017" y="143.9" width="5" height="10" fill="#ef5350"/><rect x="1026" y="137.2" width="1" height="17.9" fill="#26a69a"/><rect x="1024" y="140.8" width="5" height="13.1" fill="#26a69a"/><rect x="1034" y="114.1" width="1" height="43.6" fill="#26a69a"/><rect x="1032" y="126" width="5" height="15.5" fill="#26a69a"/><rect x="1041" y="104.1" width="1" height="26" fill="#26a69a"/><rect x="1039" y="110" width="5" height="16.7" fill="#26a69a"/><rect x="1048" y="107.7" width="1" height="20.2" fill="#ef5350"/><rect x="1046" y="108.6" width="5" height="11" fill="#ef5350"/><rect x="1056" y="101" width="1" height="24.5" fill="#26a69a"/><rect x="1054" y="111" width="5" height="8.6" fill="#26a69a"/><rect x="1063" y="107" width="1" height="14.9" fill="#ef5350"/><rect x="1061" y="111.2" width="5" height="2.4" fill="#ef5350"/><rect x="1071" y="99.1" width="1" height="25.5" fill="#26a69a"/><rect x="1069" y="99.9" width="5" height="13.8" fill="#26a69a"/><rect x="1078" y="97" width="1" height="49.8" fill="#ef5350"/><rect x="1076" y="99.9" width="5" height="22.6" fill="#ef5350"/><rect x="1085" y="112.1" width="1" height="18.5" fill="#26a69a"/><rect x="1083" y="112.1" width="5" height="10.4" fill="#26a69a"/><rect x="1093" y="109" width="1" height="37.8" fill="#ef5350"/><rect x="1091" y="112.1" width="5" height="31.6" fill="#ef5350"/><rect x="1100" y="128" width="1" height="25.9" fill="#26a69a"/><rect x="1098" y="135" width="5" height="7.8" fill="#26a69a"/><rect x="1107" y="116.1" width="1" height="21.6" fill="#26a69a"/><rect x="1105" y="121" width="5" height="14.7" fill="#26a69a"/><rect x="1115" y="116.1" width="1" height="29.6" fill="#ef5350"/><rect x="1113" y="121" width="5" height="22.9" fill="#ef5350"/><rect x="1122" y="129" width="1" height="32.9" fill="#ef5350"/><rect x="1120" y="143.1" width="5" height="4.5" fill="#ef5350"/><rect x="1129" y="147.1" width="1" height="28.8" fill="#ef5350"/><rect x="1127" y="147.1" width="5" height="11.6" fill="#ef5350"/></g><g shape-rendering="crispEdges" stroke-width="1.2"><line x1="62" x2="1224.5" y1="199.5" y2="199.5" stroke="#4caf50"/><line x1="62" x2="1224.5" y1="234.5" y2="234.5" stroke="#009688"/><line x1="1078" x2="1224.5" y1="61.5" y2="61.5" stroke="#2196f3"/><rect x="1219" y="222.5" width="1" height="6.5" fill="#bbdefb"/></g><path d="M490.8 152.7 L496.5 157.7 L502.2 152.7" fill="none" stroke="#000" stroke-width="2.9" stroke-linecap="round" stroke-linejoin="miter"/><path d="M888.8 116.5 L894.5 121.5 L900.2 116.5" fill="none" stroke="#000" stroke-width="2.9" stroke-linecap="round" stroke-linejoin="miter"/><path d="M1072.8 87.3 L1078.5 92.3 L1084.2 87.3" fill="none" stroke="#000" stroke-width="2.9" stroke-linecap="round" stroke-linejoin="miter"/><rect x="6.5" y="43.5" width="1294" height="675" fill="none" stroke="#000" stroke-width="1" shape-rendering="crispEdges"/><g transform="translate(5.97,728.77)"><path d="M3.6 15.3 C1.4 15.3 0 13.6 0 11.4 C0 8.6 2 6.2 4.9 5.9 C5.2 2.5 7.8 0 11 0 C13.8 0 16 1.8 16.9 4.4 C17.6 4.1 18.6 3.9 19.5 3.9 C21 3.9 22.3 4.4 23 5.3 L25.2 9.4 C25.8 10.2 26.1 11 26.1 11.9 C26.1 13.9 24.6 15.3 22.6 15.3 Z" fill="#2196f3"/><path d="M0.3 13.4 L9.7 6.04 L16.06 11.76 L23.6 3.9" fill="none" stroke="#fff" stroke-width="1.15"/><circle cx="9.7" cy="6.04" r="1.75" fill="#fff"/><circle cx="16.06" cy="11.76" r="1.9" fill="#fff"/></g><path d="M204.4 25.8 L214.6 25.8 L209.5 34.4 Z" fill="#ef5350"/></svg>
<div id="tx"><div style="position:absolute;top:2.90px;height:20px;line-height:20px;font-size:12.4px;color:#1c1f26;font-weight:bold;white-space:pre;letter-spacing:-0.082px;left:5.80px;">CryptoFXStreet</div><div style="position:absolute;top:2.90px;height:20px;line-height:20px;font-size:12.4px;color:#1c1f26;font-weight:normal;white-space:pre;letter-spacing:-0.032px;left:99.20px;">published</div><div style="position:absolute;top:2.90px;height:20px;line-height:20px;font-size:12.4px;color:#1c1f26;font-weight:normal;white-space:pre;letter-spacing:-0.047px;left:155.20px;">on</div><div style="position:absolute;top:2.90px;height:20px;line-height:20px;font-size:12.4px;color:#1c1f26;font-weight:normal;white-space:pre;letter-spacing:0.214px;left:172.30px;">TradingView.com,</div><div style="position:absolute;top:2.90px;height:20px;line-height:20px;font-size:12.4px;color:#1c1f26;font-weight:normal;white-space:pre;letter-spacing:0.127px;left:278.00px;">May 17,</div><div style="position:absolute;top:2.90px;height:20px;line-height:20px;font-size:12.4px;color:#1c1f26;font-weight:normal;white-space:pre;letter-spacing:0.078px;left:327.00px;">2021</div><div style="position:absolute;top:2.90px;height:20px;line-height:20px;font-size:12.4px;color:#1c1f26;font-weight:normal;white-space:pre;letter-spacing:0.079px;left:358.60px;">15:51:43</div><div style="position:absolute;top:2.90px;height:20px;line-height:20px;font-size:12.4px;color:#1c1f26;font-weight:normal;white-space:pre;letter-spacing:-0.041px;left:411.20px;">-04</div><div style="position:absolute;top:19.70px;height:20px;line-height:20px;font-size:12.4px;color:#1c1f26;font-weight:bold;white-space:pre;letter-spacing:-0.497px;left:5.80px;">COINBASE:LINKUSD, 1D</div><div style="position:absolute;top:19.70px;height:20px;line-height:20px;font-size:12.4px;color:#1c1f26;font-weight:normal;white-space:pre;letter-spacing:0.135px;left:149.00px;">38.30178</div><div style="position:absolute;top:19.70px;height:20px;line-height:20px;font-size:12.4px;color:#1c1f26;font-weight:normal;white-space:pre;letter-spacing:-0.021px;left:219.20px;">−2.40469</div><div style="position:absolute;top:19.70px;height:20px;line-height:20px;font-size:12.4px;color:#1c1f26;font-weight:normal;white-space:pre;letter-spacing:-0.083px;left:275.00px;">(−5.91%)</div><div style="position:absolute;top:19.70px;height:20px;line-height:20px;font-size:12.4px;color:#1c1f26;font-weight:bold;white-space:pre;letter-spacing:-0.237px;left:329.00px;">O:</div><div style="position:absolute;top:19.70px;height:20px;line-height:20px;font-size:12.4px;color:#ef5350;font-weight:normal;white-space:pre;letter-spacing:0.260px;left:342.80px;">40.72129</div><div style="position:absolute;top:19.70px;height:20px;line-height:20px;font-size:12.4px;color:#1c1f26;font-weight:bold;white-space:pre;letter-spacing:0.158px;left:399.60px;">H:</div><div style="position:absolute;top:19.70px;height:20px;line-height:20px;font-size:12.4px;color:#ef5350;font-weight:normal;white-space:pre;letter-spacing:0.210px;left:413.40px;">40.72133</div><div style="position:absolute;top:19.70px;height:20px;line-height:20px;font-size:12.4px;color:#1c1f26;font-weight:bold;white-space:pre;letter-spacing:-0.752px;left:471.00px;">L:</div><div style="position:absolute;top:19.70px;height:20px;line-height:20px;font-size:12.4px;color:#ef5350;font-weight:normal;white-space:pre;letter-spacing:0.185px;left:481.80px;">35.13000</div><div style="position:absolute;top:19.70px;height:20px;line-height:20px;font-size:12.4px;color:#1c1f26;font-weight:bold;white-space:pre;letter-spacing:-0.792px;left:538.80px;">C:</div><div style="position:absolute;top:19.70px;height:20px;line-height:20px;font-size:12.4px;color:#ef5350;font-weight:normal;white-space:pre;letter-spacing:0.185px;left:550.80px;">38.30178</div><div style="position:absolute;top:50.84px;height:20px;line-height:20px;font-size:12px;color:#1c1f26;font-weight:bold;white-space:pre;letter-spacing:-0.099px;left:15.00px;">LINK/USD, 1D, COINBASE</div><div style="position:absolute;top:67.84px;height:20px;line-height:20px;font-size:12px;color:#1c1f26;font-weight:normal;white-space:pre;letter-spacing:0.245px;left:15.00px;">MA (50, close, 0)</div><div style="position:absolute;top:84.34px;height:20px;line-height:20px;font-size:12px;color:#1c1f26;font-weight:normal;white-space:pre;letter-spacing:0.226px;left:15.00px;">Ichimoku (9, 26, 52, 26)</div><div style="position:absolute;top:457.44px;height:20px;line-height:20px;font-size:12px;color:#1c1f26;font-weight:normal;white-space:pre;letter-spacing:0.572px;left:15.00px;">Vol</div><div style="position:absolute;top:474.54px;height:20px;line-height:20px;font-size:12px;color:#1c1f26;font-weight:normal;white-space:pre;letter-spacing:0.391px;left:15.00px;">MA (50, Vol: Volume, 0)</div><div style="position:absolute;top:581.84px;height:20px;line-height:20px;font-size:12px;color:#1c1f26;font-weight:normal;white-space:pre;letter-spacing:-0.064px;left:15.00px;">RSI (14, close)</div><div style="position:absolute;top:81.02px;height:20px;line-height:20px;font-size:11.5px;color:#20232c;font-weight:normal;white-space:pre;letter-spacing:0.017px;left:1234.20px;transform:scaleY(1.12);transform-origin:0 13.98px;">55.00000</div><div style="position:absolute;top:127.72px;height:20px;line-height:20px;font-size:11.5px;color:#20232c;font-weight:normal;white-space:pre;letter-spacing:0.017px;left:1234.20px;transform:scaleY(1.12);transform-origin:0 13.98px;">43.00000</div><div style="position:absolute;top:166.42px;height:20px;line-height:20px;font-size:11.5px;color:#20232c;font-weight:normal;white-space:pre;letter-spacing:0.017px;left:1234.20px;transform:scaleY(1.12);transform-origin:0 13.98px;">35.00000</div><div style="position:absolute;top:201.92px;height:20px;line-height:20px;font-size:11.5px;color:#20232c;font-weight:normal;white-space:pre;letter-spacing:0.017px;left:1234.20px;transform:scaleY(1.12);transform-origin:0 13.98px;">29.00000</div><div style="position:absolute;top:245.42px;height:20px;line-height:20px;font-size:11.5px;color:#20232c;font-weight:normal;white-space:pre;letter-spacing:0.017px;left:1234.20px;transform:scaleY(1.12);transform-origin:0 13.98px;">23.00000</div><div style="position:absolute;top:281.32px;height:20px;line-height:20px;font-size:11.5px;color:#20232c;font-weight:normal;white-space:pre;letter-spacing:0.017px;left:1234.20px;transform:scaleY(1.12);transform-origin:0 13.98px;">19.00000</div><div style="position:absolute;top:313.32px;height:20px;line-height:20px;font-size:11.5px;color:#20232c;font-weight:normal;white-space:pre;letter-spacing:0.017px;left:1234.20px;transform:scaleY(1.12);transform-origin:0 13.98px;">16.00000</div><div style="position:absolute;top:352.92px;height:20px;line-height:20px;font-size:11.5px;color:#20232c;font-weight:normal;white-space:pre;letter-spacing:0.017px;left:1234.20px;transform:scaleY(1.12);transform-origin:0 13.98px;">13.00000</div><div style="position:absolute;top:384.92px;height:20px;line-height:20px;font-size:11.5px;color:#20232c;font-weight:normal;white-space:pre;letter-spacing:0.017px;left:1234.20px;transform:scaleY(1.12);transform-origin:0 13.98px;">11.00000</div><div style="position:absolute;top:422.02px;height:20px;line-height:20px;font-size:11.5px;color:#20232c;font-weight:normal;white-space:pre;letter-spacing:0.295px;left:1234.20px;transform:scaleY(1.12);transform-origin:0 13.98px;">9.00000</div><div style="position:absolute;top:450.12px;height:20px;line-height:20px;font-size:11.5px;color:#20232c;font-weight:normal;white-space:pre;letter-spacing:0.520px;left:1234.20px;transform:scaleY(1.12);transform-origin:0 13.98px;">6M</div><div style="position:absolute;top:488.52px;height:20px;line-height:20px;font-size:11.5px;color:#20232c;font-weight:normal;white-space:pre;letter-spacing:0.520px;left:1234.20px;transform:scaleY(1.12);transform-origin:0 13.98px;">4M</div><div style="position:absolute;top:525.42px;height:20px;line-height:20px;font-size:11.5px;color:#20232c;font-weight:normal;white-space:pre;letter-spacing:0.520px;left:1234.20px;transform:scaleY(1.12);transform-origin:0 13.98px;">2M</div><div style="position:absolute;top:608.42px;height:20px;line-height:20px;font-size:11.5px;color:#20232c;font-weight:normal;white-space:pre;letter-spacing:0.310px;left:1234.20px;transform:scaleY(1.12);transform-origin:0 13.98px;">60.00</div><div style="position:absolute;top:650.12px;height:20px;line-height:20px;font-size:11.5px;color:#20232c;font-weight:normal;white-space:pre;letter-spacing:0.310px;left:1234.20px;transform:scaleY(1.12);transform-origin:0 13.98px;">40.00</div><div style="position:absolute;left:1225px;top:44px;width:75px;height:6.5px;overflow:hidden"><div style="position:absolute;left:9.2px;top:-8.78px;line-height:20px;height:20px;font-size:11.5px;letter-spacing:0.240px;color:#20232c;white-space:pre;transform:scaleY(1.12);transform-origin:0 13.98px">70.00000</div></div><div style="position:absolute;left:1225px;top:560px;width:75px;height:14px;overflow:hidden"><div style="position:absolute;left:9.2px;top:1.12px;line-height:20px;height:20px;font-size:11.5px;letter-spacing:0.256px;color:#20232c;white-space:pre;transform:scaleY(1.12);transform-origin:0 13.98px">0</div></div><div style="position:absolute;left:1225px;top:575px;width:75px;height:14px;overflow:hidden"><div style="position:absolute;left:9.2px;top:-7.78px;line-height:20px;height:20px;font-size:11.5px;letter-spacing:0.230px;color:#20232c;white-space:pre;transform:scaleY(1.12);transform-origin:0 13.98px">80.00</div></div><div style="position:absolute;left:1248px;top:51px;width:26px;height:16px;border:1px solid #e0e3eb;border-radius:4px;background:#fff;box-sizing:content-box"></div><div style="position:absolute;top:50.06px;height:20px;line-height:20px;font-size:10.5px;color:#20232c;font-weight:normal;white-space:pre;letter-spacing:-0.590px;left:1251.50px;transform:scaleY(1.08);transform-origin:0 13.64px;">USD</div><div style="position:absolute;top:43.65px;height:20px;line-height:20px;font-size:11.7px;color:#2196f3;font-weight:normal;white-space:pre;letter-spacing:0.135px;left:1128.50px;transform:scaleY(1.11);transform-origin:0 14.05px;">1.618(64.02748)</div><div style="position:absolute;top:181.75px;height:20px;line-height:20px;font-size:11.7px;color:#4caf50;font-weight:normal;white-space:pre;letter-spacing:0.095px;left:1142.30px;transform:scaleY(1.11);transform-origin:0 14.05px;">0.5(30.85500)</div><div style="position:absolute;top:216.75px;height:20px;line-height:20px;font-size:11.7px;color:#009688;font-weight:normal;white-space:pre;letter-spacing:0.193px;left:1128.50px;transform:scaleY(1.11);transform-origin:0 14.05px;">0.618(25.63114)</div><div style="position:absolute;top:145.42px;height:20px;line-height:20px;font-size:11.5px;color:#1c1f26;font-weight:normal;white-space:pre;letter-spacing:0.000px;left:990.10px;width:200px;text-align:center;">1</div><div style="position:absolute;top:144.34px;height:20px;line-height:20px;font-size:12.3px;color:#1c1f26;font-weight:normal;white-space:pre;letter-spacing:0.000px;left:1012.20px;width:200px;text-align:center;">2</div><div style="position:absolute;top:694.22px;height:20px;line-height:20px;font-size:11.5px;color:#20232c;font-weight:normal;white-space:pre;letter-spacing:0.000px;left:28.50px;width:200px;text-align:center;transform:scaleY(1.1);transform-origin:0 13.98px;">2021</div><div style="position:absolute;top:694.22px;height:20px;line-height:20px;font-size:11.5px;color:#20232c;font-weight:normal;white-space:pre;letter-spacing:0.000px;left:153.50px;width:200px;text-align:center;transform:scaleY(1.1);transform-origin:0 13.98px;">18</div><div style="position:absolute;top:694.22px;height:20px;line-height:20px;font-size:11.5px;color:#20232c;font-weight:normal;white-space:pre;letter-spacing:0.000px;left:256.50px;width:200px;text-align:center;transform:scaleY(1.1);transform-origin:0 13.98px;">Feb</div><div style="position:absolute;top:694.22px;height:20px;line-height:20px;font-size:11.5px;color:#20232c;font-weight:normal;white-space:pre;letter-spacing:0.000px;left:359.50px;width:200px;text-align:center;transform:scaleY(1.1);transform-origin:0 13.98px;">15</div><div style="position:absolute;top:694.22px;height:20px;line-height:20px;font-size:11.5px;color:#20232c;font-weight:normal;white-space:pre;letter-spacing:0.000px;left:463.50px;width:200px;text-align:center;transform:scaleY(1.1);transform-origin:0 13.98px;">Mar</div><div style="position:absolute;top:694.22px;height:20px;line-height:20px;font-size:11.5px;color:#20232c;font-weight:normal;white-space:pre;letter-spacing:0.000px;left:566.50px;width:200px;text-align:center;transform:scaleY(1.1);transform-origin:0 13.98px;">15</div><div style="position:absolute;top:694.22px;height:20px;line-height:20px;font-size:11.5px;color:#20232c;font-weight:normal;white-space:pre;letter-spacing:0.000px;left:691.50px;width:200px;text-align:center;transform:scaleY(1.1);transform-origin:0 13.98px;">Apr</div><div style="position:absolute;top:694.22px;height:20px;line-height:20px;font-size:11.5px;color:#20232c;font-weight:normal;white-space:pre;letter-spacing:0.000px;left:772.50px;width:200px;text-align:center;transform:scaleY(1.1);transform-origin:0 13.98px;">12</div><div style="position:absolute;top:694.22px;height:20px;line-height:20px;font-size:11.5px;color:#20232c;font-weight:normal;white-space:pre;letter-spacing:0.000px;left:912.50px;width:200px;text-align:center;transform:scaleY(1.1);transform-origin:0 13.98px;">May</div><div style="position:absolute;top:694.22px;height:20px;line-height:20px;font-size:11.5px;color:#20232c;font-weight:normal;white-space:pre;letter-spacing:0.000px;left:1029.50px;width:200px;text-align:center;transform:scaleY(1.1);transform-origin:0 13.98px;">17</div><div style="position:absolute;top:726.60px;height:20px;line-height:20px;font-size:12.7px;color:#1c1f26;font-weight:normal;white-space:pre;letter-spacing:0.110px;left:33.80px;">TradingView</div></div>
</body></html>
